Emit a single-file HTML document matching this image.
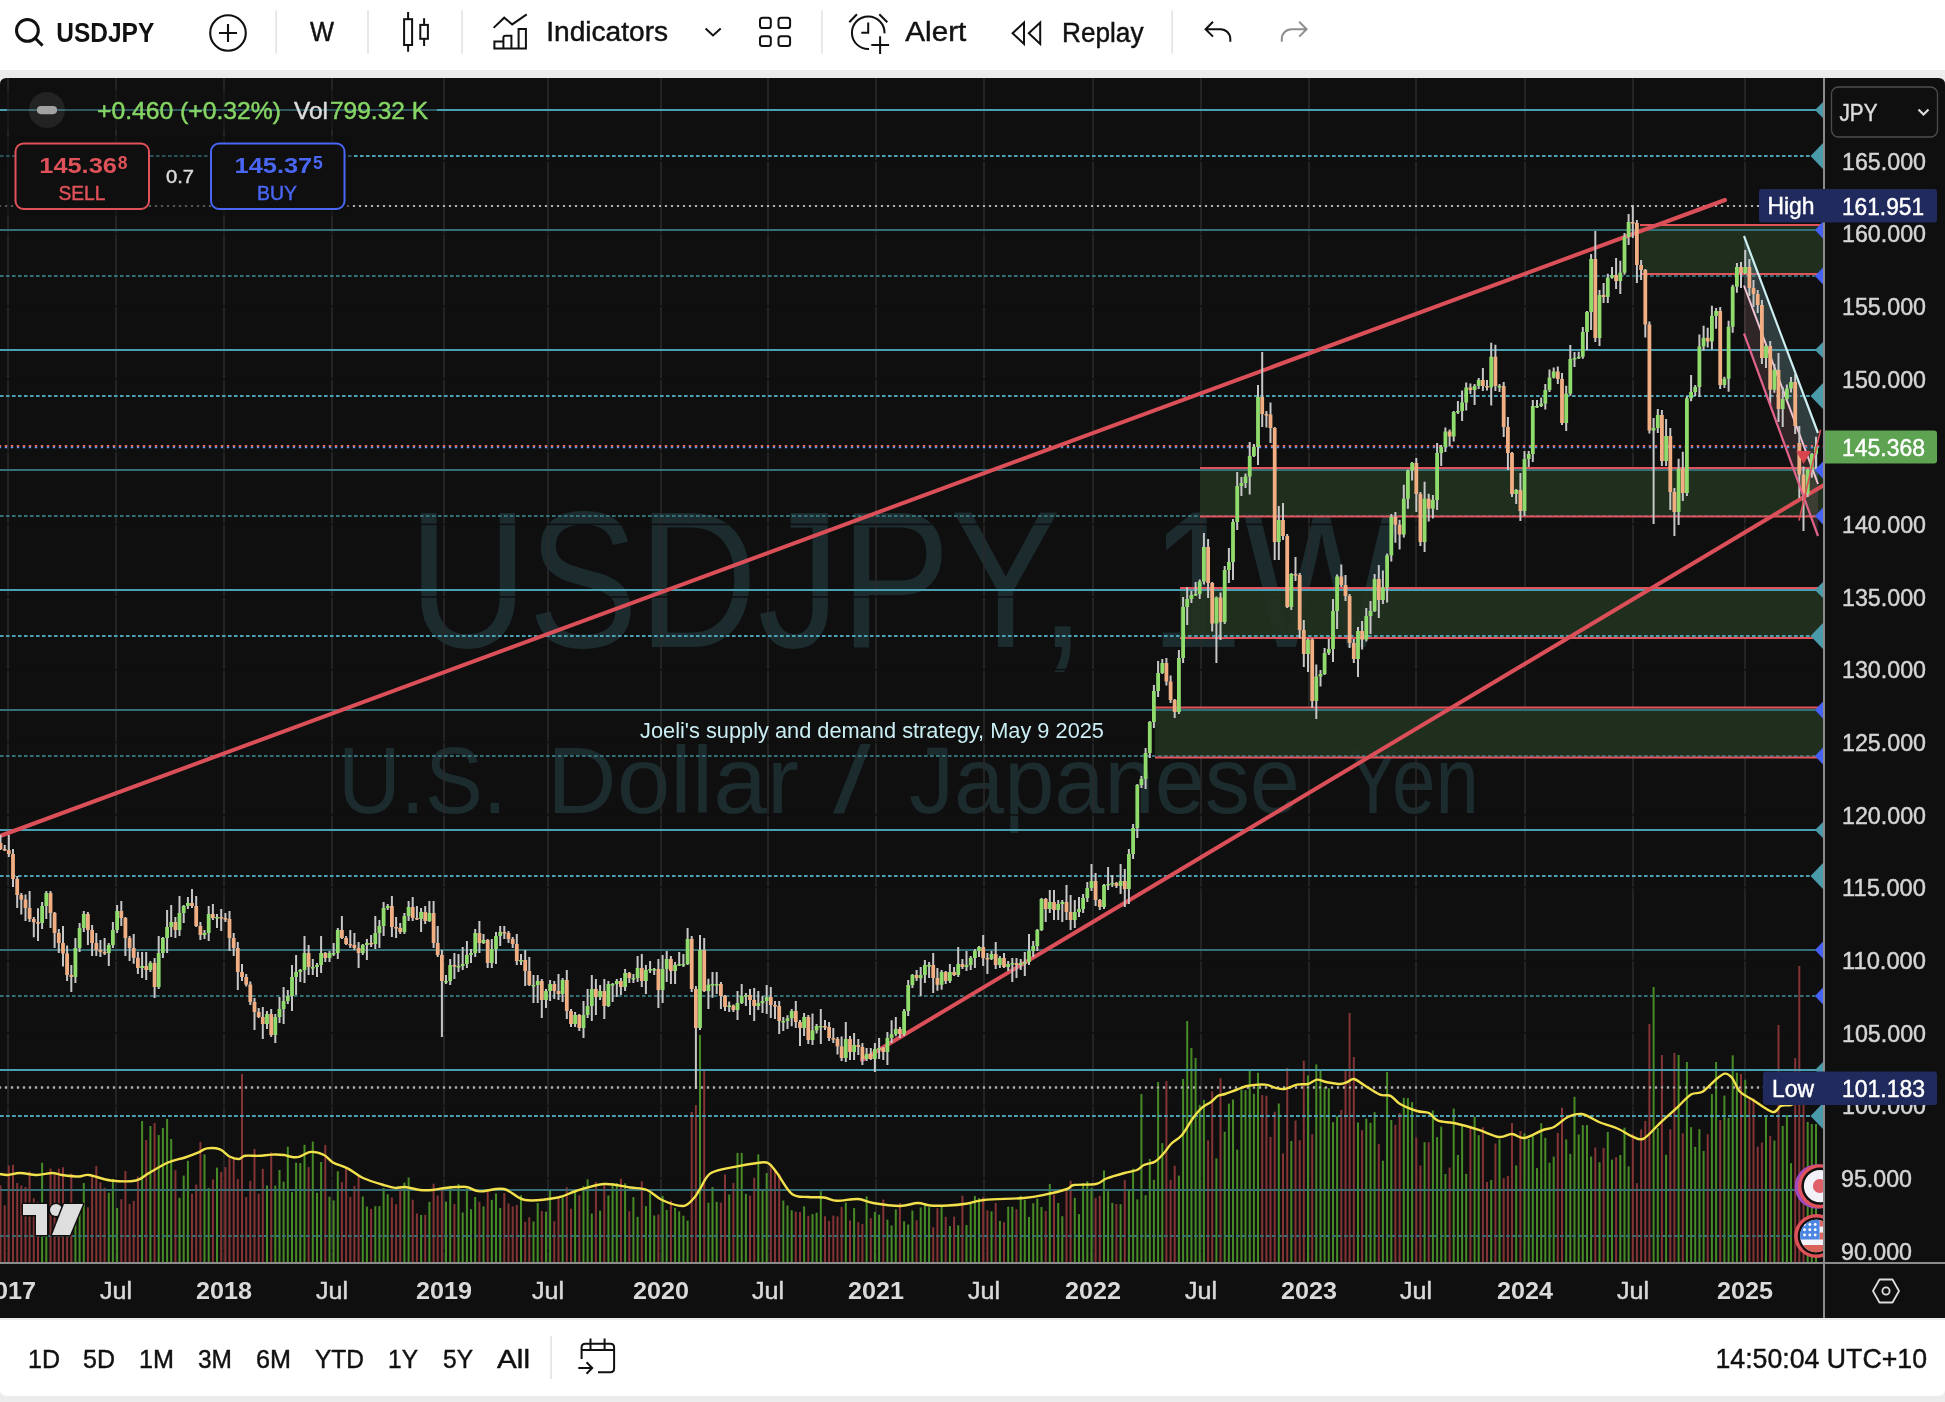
<!DOCTYPE html>
<html><head><meta charset="utf-8"><title>USDJPY</title>
<style>html,body{margin:0;padding:0;background:#ececec;width:1945px;height:1402px;overflow:hidden;font-family:"Liberation Sans",sans-serif}</style></head>
<body>
<svg width="1945" height="1402" viewBox="0 0 1945 1402" style="position:absolute;left:0;top:0;will-change:transform;font-family:'Liberation Sans',sans-serif">
<defs><clipPath id="cp"><rect x="0" y="78" width="1823" height="1185"/></clipPath><clipPath id="chartall"><path d="M0 84.500 Q0 78 6.5 78 H1938.5 Q1945 78 1945 84.500 V1318 H0 Z"/></clipPath></defs>
<rect width="1945" height="1402" fill="#ececec"/>
<rect width="1945" height="70" fill="#fff"/>
<path d="M0 1320 H1945 V1389 Q1945 1396 1938 1396 H7 Q0 1396 0 1389 Z" fill="#fff"/>
<g clip-path="url(#chartall)"><rect x="0" y="78" width="1945" height="1240" fill="#0f0f0f"/></g>
<g clip-path="url(#cp)">
<text x="408.500" y="646.5" font-size="195" fill="#1c2b2e" textLength="677" lengthAdjust="spacingAndGlyphs">USDJPY,</text>
<text x="1150" y="646.5" font-size="195" fill="#1c2b2e" textLength="250" lengthAdjust="spacingAndGlyphs">1W</text>
<text x="338" y="813" font-size="95" fill="#1c2b2e" textLength="169" lengthAdjust="spacingAndGlyphs">U.S.</text>
<text x="547" y="813" font-size="95" fill="#1c2b2e" textLength="252" lengthAdjust="spacingAndGlyphs">Dollar</text>
<text x="833" y="813" font-size="95" fill="#1c2b2e" textLength="38" lengthAdjust="spacingAndGlyphs">/</text>
<text x="909" y="813" font-size="95" fill="#1c2b2e" textLength="391" lengthAdjust="spacingAndGlyphs">Japanese</text>
<text x="1347" y="813" font-size="95" fill="#1c2b2e" textLength="132" lengthAdjust="spacingAndGlyphs">Yen</text>
<rect x="7.25" y="78" width="1.5" height="1184" fill="#2b2b2b"/>
<rect x="115.25" y="78" width="1.5" height="1184" fill="#2b2b2b"/>
<rect x="223.25" y="78" width="1.5" height="1184" fill="#2b2b2b"/>
<rect x="331.25" y="78" width="1.5" height="1184" fill="#2b2b2b"/>
<rect x="443.25" y="78" width="1.5" height="1184" fill="#2b2b2b"/>
<rect x="547.25" y="78" width="1.5" height="1184" fill="#2b2b2b"/>
<rect x="660.25" y="78" width="1.5" height="1184" fill="#2b2b2b"/>
<rect x="767.25" y="78" width="1.5" height="1184" fill="#2b2b2b"/>
<rect x="875.25" y="78" width="1.5" height="1184" fill="#2b2b2b"/>
<rect x="983.25" y="78" width="1.5" height="1184" fill="#2b2b2b"/>
<rect x="1092.25" y="78" width="1.5" height="1184" fill="#2b2b2b"/>
<rect x="1200.25" y="78" width="1.5" height="1184" fill="#2b2b2b"/>
<rect x="1308.25" y="78" width="1.5" height="1184" fill="#2b2b2b"/>
<rect x="1415.25" y="78" width="1.5" height="1184" fill="#2b2b2b"/>
<rect x="1524.25" y="78" width="1.5" height="1184" fill="#2b2b2b"/>
<rect x="1632.25" y="78" width="1.5" height="1184" fill="#2b2b2b"/>
<rect x="1744.25" y="78" width="1.5" height="1184" fill="#2b2b2b"/>
<rect x="0" y="1250.2" width="1823" height="1.5" fill="#0f0f0f"/>
<rect x="0" y="1177.6" width="1823" height="1.5" fill="#0f0f0f"/>
<rect x="0" y="1104.9" width="1823" height="1.5" fill="#0f0f0f"/>
<rect x="0" y="1032.2" width="1823" height="1.5" fill="#0f0f0f"/>
<rect x="0" y="959.6" width="1823" height="1.5" fill="#0f0f0f"/>
<rect x="0" y="886.9" width="1823" height="1.5" fill="#0f0f0f"/>
<rect x="0" y="814.2" width="1823" height="1.5" fill="#0f0f0f"/>
<rect x="0" y="741.6" width="1823" height="1.5" fill="#0f0f0f"/>
<rect x="0" y="668.9" width="1823" height="1.5" fill="#0f0f0f"/>
<rect x="0" y="596.2" width="1823" height="1.5" fill="#0f0f0f"/>
<rect x="0" y="523.6" width="1823" height="1.5" fill="#0f0f0f"/>
<rect x="0" y="450.9" width="1823" height="1.5" fill="#0f0f0f"/>
<rect x="0" y="378.2" width="1823" height="1.5" fill="#0f0f0f"/>
<rect x="0" y="305.6" width="1823" height="1.5" fill="#0f0f0f"/>
<rect x="0" y="232.9" width="1823" height="1.5" fill="#0f0f0f"/>
<rect x="0" y="160.2" width="1823" height="1.5" fill="#0f0f0f"/>
<rect x="1640" y="225" width="183" height="49" fill="#22311f" fill-opacity="0.92"/>
<rect x="1200" y="468" width="623" height="48.5" fill="#22311f" fill-opacity="0.92"/>
<rect x="1180" y="588" width="643" height="50" fill="#22311f" fill-opacity="0.92"/>
<rect x="1155" y="707.5" width="668" height="50.0" fill="#22311f" fill-opacity="0.92"/>
<rect x="0" y="109" width="1823" height="2" fill="#4a9fb3"/>
<rect x="0" y="229" width="1823" height="2" fill="#357079"/>
<rect x="0" y="349" width="1823" height="2" fill="#4a9fb3"/>
<rect x="0" y="469" width="1823" height="2" fill="#357079"/>
<rect x="0" y="589" width="1823" height="2" fill="#4a9fb3"/>
<rect x="0" y="709" width="1823" height="2" fill="#357079"/>
<rect x="0" y="829" width="1823" height="2" fill="#4a9fb3"/>
<rect x="0" y="949" width="1823" height="2" fill="#357079"/>
<rect x="0" y="1069" width="1823" height="2" fill="#4a9fb3"/>
<rect x="0" y="1189" width="1823" height="2" fill="#357079"/>
<line x1="0" y1="156" x2="1823" y2="156" stroke="#4a9fb3" stroke-width="2" stroke-dasharray="3.6 2.4"/>
<line x1="0" y1="276" x2="1823" y2="276" stroke="#357079" stroke-width="2" stroke-dasharray="3.6 2.4"/>
<line x1="0" y1="396" x2="1823" y2="396" stroke="#4a9fb3" stroke-width="2" stroke-dasharray="3.6 2.4"/>
<line x1="0" y1="516" x2="1823" y2="516" stroke="#357079" stroke-width="2" stroke-dasharray="3.6 2.4"/>
<line x1="0" y1="636" x2="1823" y2="636" stroke="#4a9fb3" stroke-width="2" stroke-dasharray="3.6 2.4"/>
<line x1="0" y1="756" x2="1823" y2="756" stroke="#357079" stroke-width="2" stroke-dasharray="3.6 2.4"/>
<line x1="0" y1="876" x2="1823" y2="876" stroke="#4a9fb3" stroke-width="2" stroke-dasharray="3.6 2.4"/>
<line x1="0" y1="996" x2="1823" y2="996" stroke="#357079" stroke-width="2" stroke-dasharray="3.6 2.4"/>
<line x1="0" y1="1116" x2="1823" y2="1116" stroke="#4a9fb3" stroke-width="2" stroke-dasharray="3.6 2.4"/>
<line x1="0" y1="1236" x2="1823" y2="1236" stroke="#357079" stroke-width="2" stroke-dasharray="3.6 2.4"/>
<rect x="1640" y="224" width="183" height="2" fill="#e2525a"/>
<rect x="1640" y="273" width="183" height="2" fill="#e2525a"/>
<rect x="1200" y="467" width="623" height="2" fill="#e2525a"/>
<rect x="1200" y="515.5" width="623" height="2" fill="#e2525a"/>
<rect x="1180" y="587" width="643" height="2" fill="#e2525a"/>
<rect x="1180" y="637" width="643" height="2" fill="#e2525a"/>
<rect x="1155" y="706.5" width="668" height="2" fill="#e2525a"/>
<rect x="1155" y="756.5" width="668" height="2" fill="#e2525a"/>
<line x1="-1.1" y1="206" x2="1765" y2="206" stroke="#adadad" stroke-width="2.2" stroke-dasharray="2.2 3.8"/>
<line x1="-1.1" y1="1087.5" x2="1770" y2="1087.5" stroke="#adadad" stroke-width="2.2" stroke-dasharray="2.2 3.8"/>
<rect x="-0.5" y="1185.3" width="2" height="76.7" fill="#843434"/>
<rect x="3.7" y="1205.3" width="2" height="56.7" fill="#843434"/>
<rect x="7.8" y="1165.4" width="2" height="96.6" fill="#843434"/>
<rect x="12.0" y="1164.7" width="2" height="97.3" fill="#843434"/>
<rect x="16.2" y="1183.0" width="2" height="79.0" fill="#843434"/>
<rect x="20.3" y="1185.5" width="2" height="76.5" fill="#843434"/>
<rect x="24.5" y="1186.9" width="2" height="75.1" fill="#843434"/>
<rect x="28.6" y="1171.5" width="2" height="90.5" fill="#843434"/>
<rect x="32.8" y="1198.3" width="2" height="63.7" fill="#843434"/>
<rect x="37.0" y="1201.8" width="2" height="60.2" fill="#843434"/>
<rect x="41.1" y="1162.8" width="2" height="99.2" fill="#468b26"/>
<rect x="45.3" y="1203.1" width="2" height="58.9" fill="#468b26"/>
<rect x="49.5" y="1168.5" width="2" height="93.5" fill="#843434"/>
<rect x="53.6" y="1174.8" width="2" height="87.2" fill="#843434"/>
<rect x="57.8" y="1168.7" width="2" height="93.3" fill="#843434"/>
<rect x="62.0" y="1167.3" width="2" height="94.7" fill="#843434"/>
<rect x="66.1" y="1205.3" width="2" height="56.7" fill="#843434"/>
<rect x="70.3" y="1173.5" width="2" height="88.5" fill="#843434"/>
<rect x="74.4" y="1209.6" width="2" height="52.4" fill="#468b26"/>
<rect x="78.6" y="1204.1" width="2" height="57.9" fill="#468b26"/>
<rect x="82.8" y="1183.1" width="2" height="78.9" fill="#468b26"/>
<rect x="86.9" y="1207.3" width="2" height="54.7" fill="#843434"/>
<rect x="91.1" y="1176.3" width="2" height="85.7" fill="#843434"/>
<rect x="95.3" y="1166.1" width="2" height="95.9" fill="#843434"/>
<rect x="99.4" y="1182.4" width="2" height="79.6" fill="#843434"/>
<rect x="103.6" y="1187.8" width="2" height="74.2" fill="#843434"/>
<rect x="107.8" y="1192.7" width="2" height="69.3" fill="#468b26"/>
<rect x="111.9" y="1178.9" width="2" height="83.1" fill="#468b26"/>
<rect x="116.1" y="1208.0" width="2" height="54.0" fill="#468b26"/>
<rect x="120.3" y="1199.2" width="2" height="62.8" fill="#843434"/>
<rect x="124.4" y="1171.0" width="2" height="91.0" fill="#843434"/>
<rect x="128.6" y="1203.9" width="2" height="58.1" fill="#843434"/>
<rect x="132.7" y="1200.9" width="2" height="61.1" fill="#843434"/>
<rect x="136.9" y="1176.6" width="2" height="85.4" fill="#843434"/>
<rect x="141.1" y="1121.0" width="2" height="141.0" fill="#468b26"/>
<rect x="145.2" y="1140.0" width="2" height="122.0" fill="#843434"/>
<rect x="149.4" y="1126.0" width="2" height="136.0" fill="#468b26"/>
<rect x="153.6" y="1123.0" width="2" height="139.0" fill="#843434"/>
<rect x="157.7" y="1135.0" width="2" height="127.0" fill="#468b26"/>
<rect x="161.9" y="1128.0" width="2" height="134.0" fill="#468b26"/>
<rect x="166.1" y="1119.0" width="2" height="143.0" fill="#468b26"/>
<rect x="170.2" y="1139.0" width="2" height="123.0" fill="#468b26"/>
<rect x="174.4" y="1170.2" width="2" height="91.8" fill="#843434"/>
<rect x="178.5" y="1197.8" width="2" height="64.2" fill="#468b26"/>
<rect x="182.7" y="1175.6" width="2" height="86.4" fill="#468b26"/>
<rect x="186.9" y="1160.8" width="2" height="101.2" fill="#468b26"/>
<rect x="191.0" y="1193.7" width="2" height="68.3" fill="#843434"/>
<rect x="195.2" y="1184.6" width="2" height="77.4" fill="#843434"/>
<rect x="199.4" y="1142.1" width="2" height="119.9" fill="#843434"/>
<rect x="203.5" y="1154.4" width="2" height="107.6" fill="#468b26"/>
<rect x="207.7" y="1188.1" width="2" height="73.9" fill="#468b26"/>
<rect x="211.9" y="1179.4" width="2" height="82.6" fill="#843434"/>
<rect x="216.0" y="1167.6" width="2" height="94.4" fill="#468b26"/>
<rect x="220.2" y="1171.8" width="2" height="90.2" fill="#843434"/>
<rect x="224.4" y="1167.1" width="2" height="94.9" fill="#843434"/>
<rect x="228.5" y="1158.2" width="2" height="103.8" fill="#843434"/>
<rect x="232.7" y="1158.2" width="2" height="103.8" fill="#843434"/>
<rect x="236.8" y="1179.0" width="2" height="83.0" fill="#843434"/>
<rect x="241.0" y="1074.0" width="2" height="188.0" fill="#843434"/>
<rect x="245.2" y="1197.1" width="2" height="64.9" fill="#843434"/>
<rect x="249.3" y="1180.7" width="2" height="81.3" fill="#843434"/>
<rect x="253.5" y="1149.0" width="2" height="113.0" fill="#843434"/>
<rect x="257.7" y="1193.6" width="2" height="68.4" fill="#843434"/>
<rect x="261.8" y="1168.8" width="2" height="93.2" fill="#843434"/>
<rect x="266.0" y="1185.5" width="2" height="76.5" fill="#468b26"/>
<rect x="270.2" y="1152.4" width="2" height="109.6" fill="#843434"/>
<rect x="274.3" y="1185.6" width="2" height="76.4" fill="#468b26"/>
<rect x="278.5" y="1170.0" width="2" height="92.0" fill="#468b26"/>
<rect x="282.6" y="1181.7" width="2" height="80.3" fill="#468b26"/>
<rect x="286.8" y="1146.7" width="2" height="115.3" fill="#468b26"/>
<rect x="291.0" y="1191.9" width="2" height="70.1" fill="#468b26"/>
<rect x="295.1" y="1162.7" width="2" height="99.3" fill="#468b26"/>
<rect x="299.3" y="1163.0" width="2" height="99.0" fill="#468b26"/>
<rect x="303.5" y="1144.8" width="2" height="117.2" fill="#468b26"/>
<rect x="307.6" y="1167.1" width="2" height="94.9" fill="#843434"/>
<rect x="311.8" y="1141.5" width="2" height="120.5" fill="#468b26"/>
<rect x="316.0" y="1192.7" width="2" height="69.3" fill="#468b26"/>
<rect x="320.1" y="1162.0" width="2" height="100.0" fill="#468b26"/>
<rect x="324.3" y="1144.9" width="2" height="117.1" fill="#843434"/>
<rect x="328.5" y="1196.7" width="2" height="65.3" fill="#468b26"/>
<rect x="332.6" y="1200.4" width="2" height="61.6" fill="#468b26"/>
<rect x="336.8" y="1171.3" width="2" height="90.7" fill="#468b26"/>
<rect x="340.9" y="1182.2" width="2" height="79.8" fill="#843434"/>
<rect x="345.1" y="1168.7" width="2" height="93.3" fill="#843434"/>
<rect x="349.3" y="1196.9" width="2" height="65.1" fill="#843434"/>
<rect x="353.4" y="1186.0" width="2" height="76.0" fill="#843434"/>
<rect x="357.6" y="1176.0" width="2" height="86.0" fill="#843434"/>
<rect x="361.8" y="1196.5" width="2" height="65.5" fill="#468b26"/>
<rect x="365.9" y="1206.6" width="2" height="55.4" fill="#468b26"/>
<rect x="370.1" y="1209.0" width="2" height="53.0" fill="#843434"/>
<rect x="374.3" y="1206.2" width="2" height="55.8" fill="#468b26"/>
<rect x="378.4" y="1206.1" width="2" height="55.9" fill="#468b26"/>
<rect x="382.6" y="1188.0" width="2" height="74.0" fill="#468b26"/>
<rect x="386.7" y="1194.3" width="2" height="67.7" fill="#468b26"/>
<rect x="390.9" y="1197.5" width="2" height="64.5" fill="#843434"/>
<rect x="395.1" y="1204.3" width="2" height="57.7" fill="#843434"/>
<rect x="399.2" y="1187.5" width="2" height="74.5" fill="#843434"/>
<rect x="403.4" y="1182.6" width="2" height="79.4" fill="#468b26"/>
<rect x="407.6" y="1177.5" width="2" height="84.5" fill="#468b26"/>
<rect x="411.7" y="1199.7" width="2" height="62.3" fill="#843434"/>
<rect x="415.9" y="1213.4" width="2" height="48.6" fill="#843434"/>
<rect x="420.1" y="1215.0" width="2" height="47.0" fill="#468b26"/>
<rect x="424.2" y="1214.9" width="2" height="47.1" fill="#843434"/>
<rect x="428.4" y="1201.8" width="2" height="60.2" fill="#468b26"/>
<rect x="432.6" y="1183.7" width="2" height="78.3" fill="#843434"/>
<rect x="436.7" y="1195.6" width="2" height="66.4" fill="#843434"/>
<rect x="440.9" y="1187.2" width="2" height="74.8" fill="#843434"/>
<rect x="445.0" y="1201.6" width="2" height="60.4" fill="#468b26"/>
<rect x="449.2" y="1185.9" width="2" height="76.1" fill="#468b26"/>
<rect x="453.4" y="1204.0" width="2" height="58.0" fill="#843434"/>
<rect x="457.5" y="1183.9" width="2" height="78.1" fill="#468b26"/>
<rect x="461.7" y="1212.5" width="2" height="49.5" fill="#468b26"/>
<rect x="465.9" y="1188.2" width="2" height="73.8" fill="#468b26"/>
<rect x="470.0" y="1209.3" width="2" height="52.7" fill="#468b26"/>
<rect x="474.2" y="1197.0" width="2" height="65.0" fill="#468b26"/>
<rect x="478.4" y="1201.8" width="2" height="60.2" fill="#843434"/>
<rect x="482.5" y="1206.4" width="2" height="55.6" fill="#468b26"/>
<rect x="486.7" y="1190.2" width="2" height="71.8" fill="#843434"/>
<rect x="490.8" y="1199.9" width="2" height="62.1" fill="#468b26"/>
<rect x="495.0" y="1193.5" width="2" height="68.5" fill="#468b26"/>
<rect x="499.2" y="1208.0" width="2" height="54.0" fill="#468b26"/>
<rect x="503.3" y="1193.1" width="2" height="68.9" fill="#843434"/>
<rect x="507.5" y="1203.5" width="2" height="58.5" fill="#843434"/>
<rect x="511.7" y="1206.4" width="2" height="55.6" fill="#843434"/>
<rect x="515.8" y="1205.0" width="2" height="57.0" fill="#843434"/>
<rect x="520.0" y="1195.3" width="2" height="66.7" fill="#468b26"/>
<rect x="524.2" y="1221.9" width="2" height="40.1" fill="#843434"/>
<rect x="528.3" y="1217.3" width="2" height="44.7" fill="#843434"/>
<rect x="532.5" y="1221.5" width="2" height="40.5" fill="#468b26"/>
<rect x="536.7" y="1203.1" width="2" height="58.9" fill="#468b26"/>
<rect x="540.8" y="1211.0" width="2" height="51.0" fill="#843434"/>
<rect x="545.0" y="1211.7" width="2" height="50.3" fill="#468b26"/>
<rect x="549.1" y="1190.4" width="2" height="71.6" fill="#468b26"/>
<rect x="553.3" y="1221.2" width="2" height="40.8" fill="#843434"/>
<rect x="557.5" y="1196.7" width="2" height="65.3" fill="#843434"/>
<rect x="561.6" y="1197.2" width="2" height="64.8" fill="#468b26"/>
<rect x="565.8" y="1187.2" width="2" height="74.8" fill="#843434"/>
<rect x="570.0" y="1208.7" width="2" height="53.3" fill="#843434"/>
<rect x="574.1" y="1191.5" width="2" height="70.5" fill="#468b26"/>
<rect x="578.3" y="1195.2" width="2" height="66.8" fill="#843434"/>
<rect x="582.5" y="1186.1" width="2" height="75.9" fill="#468b26"/>
<rect x="586.6" y="1179.4" width="2" height="82.6" fill="#468b26"/>
<rect x="590.8" y="1213.6" width="2" height="48.4" fill="#468b26"/>
<rect x="594.9" y="1182.0" width="2" height="80.0" fill="#843434"/>
<rect x="599.1" y="1210.6" width="2" height="51.4" fill="#468b26"/>
<rect x="603.3" y="1184.5" width="2" height="77.5" fill="#843434"/>
<rect x="607.4" y="1195.4" width="2" height="66.6" fill="#468b26"/>
<rect x="611.6" y="1183.1" width="2" height="78.9" fill="#468b26"/>
<rect x="615.8" y="1183.2" width="2" height="78.8" fill="#468b26"/>
<rect x="619.9" y="1178.7" width="2" height="83.3" fill="#843434"/>
<rect x="624.1" y="1183.3" width="2" height="78.7" fill="#468b26"/>
<rect x="628.3" y="1211.1" width="2" height="50.9" fill="#843434"/>
<rect x="632.4" y="1197.1" width="2" height="64.9" fill="#468b26"/>
<rect x="636.6" y="1216.8" width="2" height="45.2" fill="#468b26"/>
<rect x="640.8" y="1181.3" width="2" height="80.7" fill="#843434"/>
<rect x="644.9" y="1206.2" width="2" height="55.8" fill="#468b26"/>
<rect x="649.1" y="1193.4" width="2" height="68.6" fill="#468b26"/>
<rect x="653.2" y="1215.5" width="2" height="46.5" fill="#468b26"/>
<rect x="657.4" y="1214.5" width="2" height="47.5" fill="#843434"/>
<rect x="661.6" y="1195.8" width="2" height="66.2" fill="#468b26"/>
<rect x="665.7" y="1209.9" width="2" height="52.1" fill="#468b26"/>
<rect x="669.9" y="1200.8" width="2" height="61.2" fill="#843434"/>
<rect x="674.1" y="1207.8" width="2" height="54.2" fill="#468b26"/>
<rect x="678.2" y="1211.4" width="2" height="50.6" fill="#468b26"/>
<rect x="682.4" y="1215.7" width="2" height="46.3" fill="#468b26"/>
<rect x="686.6" y="1220.6" width="2" height="41.4" fill="#468b26"/>
<rect x="690.7" y="1112.0" width="2" height="150.0" fill="#843434"/>
<rect x="694.9" y="1105.0" width="2" height="157.0" fill="#843434"/>
<rect x="699.0" y="1035.0" width="2" height="227.0" fill="#468b26"/>
<rect x="703.2" y="1071.0" width="2" height="191.0" fill="#843434"/>
<rect x="707.4" y="1202.7" width="2" height="59.3" fill="#468b26"/>
<rect x="711.5" y="1187.1" width="2" height="74.9" fill="#468b26"/>
<rect x="715.7" y="1201.8" width="2" height="60.2" fill="#468b26"/>
<rect x="719.9" y="1202.7" width="2" height="59.3" fill="#843434"/>
<rect x="724.0" y="1174.5" width="2" height="87.5" fill="#843434"/>
<rect x="728.2" y="1194.5" width="2" height="67.5" fill="#468b26"/>
<rect x="732.4" y="1182.9" width="2" height="79.1" fill="#843434"/>
<rect x="736.5" y="1152.9" width="2" height="109.1" fill="#468b26"/>
<rect x="740.7" y="1152.9" width="2" height="109.1" fill="#468b26"/>
<rect x="744.9" y="1193.9" width="2" height="68.1" fill="#468b26"/>
<rect x="749.0" y="1195.6" width="2" height="66.4" fill="#843434"/>
<rect x="753.2" y="1177.7" width="2" height="84.3" fill="#843434"/>
<rect x="757.3" y="1154.3" width="2" height="107.7" fill="#468b26"/>
<rect x="761.5" y="1189.3" width="2" height="72.7" fill="#468b26"/>
<rect x="765.7" y="1173.1" width="2" height="88.9" fill="#468b26"/>
<rect x="769.8" y="1163.7" width="2" height="98.3" fill="#843434"/>
<rect x="774.0" y="1169.2" width="2" height="92.8" fill="#843434"/>
<rect x="778.2" y="1173.6" width="2" height="88.4" fill="#843434"/>
<rect x="782.3" y="1200.5" width="2" height="61.5" fill="#468b26"/>
<rect x="786.5" y="1205.5" width="2" height="56.5" fill="#468b26"/>
<rect x="790.7" y="1210.3" width="2" height="51.7" fill="#468b26"/>
<rect x="794.8" y="1211.7" width="2" height="50.3" fill="#843434"/>
<rect x="799.0" y="1212.1" width="2" height="49.9" fill="#843434"/>
<rect x="803.1" y="1206.4" width="2" height="55.6" fill="#468b26"/>
<rect x="807.3" y="1215.8" width="2" height="46.2" fill="#843434"/>
<rect x="811.5" y="1214.1" width="2" height="47.9" fill="#468b26"/>
<rect x="815.6" y="1212.7" width="2" height="49.3" fill="#468b26"/>
<rect x="819.8" y="1191.2" width="2" height="70.8" fill="#468b26"/>
<rect x="824.0" y="1216.2" width="2" height="45.8" fill="#843434"/>
<rect x="828.1" y="1221.1" width="2" height="40.9" fill="#843434"/>
<rect x="832.3" y="1215.6" width="2" height="46.4" fill="#843434"/>
<rect x="836.5" y="1216.4" width="2" height="45.6" fill="#843434"/>
<rect x="840.6" y="1207.0" width="2" height="55.0" fill="#843434"/>
<rect x="844.8" y="1202.6" width="2" height="59.4" fill="#468b26"/>
<rect x="849.0" y="1220.5" width="2" height="41.5" fill="#843434"/>
<rect x="853.1" y="1208.1" width="2" height="53.9" fill="#468b26"/>
<rect x="857.3" y="1222.2" width="2" height="39.8" fill="#843434"/>
<rect x="861.4" y="1224.0" width="2" height="38.0" fill="#843434"/>
<rect x="865.6" y="1196.3" width="2" height="65.7" fill="#468b26"/>
<rect x="869.8" y="1218.1" width="2" height="43.9" fill="#843434"/>
<rect x="873.9" y="1211.9" width="2" height="50.1" fill="#468b26"/>
<rect x="878.1" y="1214.6" width="2" height="47.4" fill="#468b26"/>
<rect x="882.3" y="1199.5" width="2" height="62.5" fill="#843434"/>
<rect x="886.4" y="1219.7" width="2" height="42.3" fill="#468b26"/>
<rect x="890.6" y="1225.5" width="2" height="36.5" fill="#468b26"/>
<rect x="894.8" y="1209.3" width="2" height="52.7" fill="#468b26"/>
<rect x="898.9" y="1203.0" width="2" height="59.0" fill="#843434"/>
<rect x="903.1" y="1221.3" width="2" height="40.7" fill="#468b26"/>
<rect x="907.2" y="1224.5" width="2" height="37.5" fill="#468b26"/>
<rect x="911.4" y="1210.5" width="2" height="51.5" fill="#468b26"/>
<rect x="915.6" y="1220.3" width="2" height="41.7" fill="#843434"/>
<rect x="919.7" y="1207.5" width="2" height="54.5" fill="#468b26"/>
<rect x="923.9" y="1203.0" width="2" height="59.0" fill="#468b26"/>
<rect x="928.1" y="1207.2" width="2" height="54.8" fill="#468b26"/>
<rect x="932.2" y="1227.1" width="2" height="34.9" fill="#843434"/>
<rect x="936.4" y="1208.2" width="2" height="53.8" fill="#843434"/>
<rect x="940.6" y="1206.0" width="2" height="56.0" fill="#468b26"/>
<rect x="944.7" y="1216.8" width="2" height="45.2" fill="#843434"/>
<rect x="948.9" y="1226.1" width="2" height="35.9" fill="#468b26"/>
<rect x="953.1" y="1216.6" width="2" height="45.4" fill="#843434"/>
<rect x="957.2" y="1225.3" width="2" height="36.7" fill="#468b26"/>
<rect x="961.4" y="1195.7" width="2" height="66.3" fill="#843434"/>
<rect x="965.5" y="1225.0" width="2" height="37.0" fill="#468b26"/>
<rect x="969.7" y="1202.6" width="2" height="59.4" fill="#468b26"/>
<rect x="973.9" y="1195.9" width="2" height="66.1" fill="#468b26"/>
<rect x="978.0" y="1198.2" width="2" height="63.8" fill="#468b26"/>
<rect x="982.2" y="1197.2" width="2" height="64.8" fill="#843434"/>
<rect x="986.4" y="1210.4" width="2" height="51.6" fill="#843434"/>
<rect x="990.5" y="1211.4" width="2" height="50.6" fill="#468b26"/>
<rect x="994.7" y="1203.0" width="2" height="59.0" fill="#843434"/>
<rect x="998.9" y="1220.9" width="2" height="41.1" fill="#468b26"/>
<rect x="1003.0" y="1222.3" width="2" height="39.7" fill="#843434"/>
<rect x="1007.2" y="1206.6" width="2" height="55.4" fill="#468b26"/>
<rect x="1011.3" y="1206.8" width="2" height="55.2" fill="#468b26"/>
<rect x="1015.5" y="1209.2" width="2" height="52.8" fill="#843434"/>
<rect x="1019.7" y="1195.8" width="2" height="66.2" fill="#468b26"/>
<rect x="1023.8" y="1200.0" width="2" height="62.0" fill="#468b26"/>
<rect x="1028.0" y="1217.0" width="2" height="45.0" fill="#468b26"/>
<rect x="1032.2" y="1203.3" width="2" height="58.7" fill="#468b26"/>
<rect x="1036.3" y="1198.5" width="2" height="63.5" fill="#468b26"/>
<rect x="1040.5" y="1207.0" width="2" height="55.0" fill="#468b26"/>
<rect x="1044.7" y="1211.0" width="2" height="51.0" fill="#843434"/>
<rect x="1048.8" y="1183.9" width="2" height="78.1" fill="#468b26"/>
<rect x="1053.0" y="1194.6" width="2" height="67.4" fill="#843434"/>
<rect x="1057.2" y="1203.0" width="2" height="59.0" fill="#468b26"/>
<rect x="1061.3" y="1216.2" width="2" height="45.8" fill="#468b26"/>
<rect x="1065.5" y="1188.4" width="2" height="73.6" fill="#843434"/>
<rect x="1069.6" y="1180.6" width="2" height="81.4" fill="#843434"/>
<rect x="1073.8" y="1197.9" width="2" height="64.1" fill="#468b26"/>
<rect x="1078.0" y="1214.1" width="2" height="47.9" fill="#468b26"/>
<rect x="1082.1" y="1183.0" width="2" height="79.0" fill="#468b26"/>
<rect x="1086.3" y="1181.3" width="2" height="80.7" fill="#468b26"/>
<rect x="1090.5" y="1187.7" width="2" height="74.3" fill="#468b26"/>
<rect x="1094.6" y="1198.1" width="2" height="63.9" fill="#843434"/>
<rect x="1098.8" y="1195.8" width="2" height="66.2" fill="#843434"/>
<rect x="1103.0" y="1170.4" width="2" height="91.6" fill="#468b26"/>
<rect x="1107.1" y="1191.2" width="2" height="70.8" fill="#468b26"/>
<rect x="1111.3" y="1202.9" width="2" height="59.1" fill="#468b26"/>
<rect x="1115.4" y="1204.0" width="2" height="58.0" fill="#843434"/>
<rect x="1119.6" y="1204.2" width="2" height="57.8" fill="#468b26"/>
<rect x="1123.8" y="1180.1" width="2" height="81.9" fill="#843434"/>
<rect x="1127.9" y="1189.5" width="2" height="72.5" fill="#468b26"/>
<rect x="1132.1" y="1168.7" width="2" height="93.3" fill="#468b26"/>
<rect x="1136.3" y="1199.4" width="2" height="62.6" fill="#468b26"/>
<rect x="1140.4" y="1094.0" width="2" height="168.0" fill="#468b26"/>
<rect x="1144.6" y="1195.2" width="2" height="66.8" fill="#468b26"/>
<rect x="1148.8" y="1159.0" width="2" height="103.0" fill="#468b26"/>
<rect x="1152.9" y="1179.8" width="2" height="82.2" fill="#468b26"/>
<rect x="1157.1" y="1082.0" width="2" height="180.0" fill="#468b26"/>
<rect x="1161.3" y="1143.1" width="2" height="118.9" fill="#468b26"/>
<rect x="1165.4" y="1081.0" width="2" height="181.0" fill="#843434"/>
<rect x="1169.6" y="1179.8" width="2" height="82.2" fill="#843434"/>
<rect x="1173.7" y="1165.8" width="2" height="96.2" fill="#843434"/>
<rect x="1177.9" y="1175.6" width="2" height="86.4" fill="#468b26"/>
<rect x="1182.1" y="1079.0" width="2" height="183.0" fill="#468b26"/>
<rect x="1186.2" y="1021.0" width="2" height="241.0" fill="#468b26"/>
<rect x="1190.4" y="1048.0" width="2" height="214.0" fill="#468b26"/>
<rect x="1194.6" y="1058.0" width="2" height="204.0" fill="#468b26"/>
<rect x="1198.7" y="1104.9" width="2" height="157.1" fill="#468b26"/>
<rect x="1202.9" y="1099.9" width="2" height="162.1" fill="#468b26"/>
<rect x="1207.1" y="1140.4" width="2" height="121.6" fill="#843434"/>
<rect x="1211.2" y="1091.3" width="2" height="170.7" fill="#843434"/>
<rect x="1215.4" y="1158.4" width="2" height="103.6" fill="#468b26"/>
<rect x="1219.5" y="1078.3" width="2" height="183.7" fill="#843434"/>
<rect x="1223.7" y="1131.7" width="2" height="130.3" fill="#468b26"/>
<rect x="1227.9" y="1103.6" width="2" height="158.4" fill="#468b26"/>
<rect x="1232.0" y="1099.5" width="2" height="162.5" fill="#468b26"/>
<rect x="1236.2" y="1149.6" width="2" height="112.4" fill="#468b26"/>
<rect x="1240.4" y="1089.5" width="2" height="172.5" fill="#468b26"/>
<rect x="1244.5" y="1090.3" width="2" height="171.7" fill="#468b26"/>
<rect x="1248.7" y="1070.1" width="2" height="191.9" fill="#468b26"/>
<rect x="1252.9" y="1093.8" width="2" height="168.2" fill="#468b26"/>
<rect x="1257.0" y="1072.7" width="2" height="189.3" fill="#468b26"/>
<rect x="1261.2" y="1095.1" width="2" height="166.9" fill="#843434"/>
<rect x="1265.4" y="1095.8" width="2" height="166.2" fill="#843434"/>
<rect x="1269.5" y="1137.0" width="2" height="125.0" fill="#843434"/>
<rect x="1273.7" y="1111.7" width="2" height="150.3" fill="#843434"/>
<rect x="1277.8" y="1103.5" width="2" height="158.5" fill="#468b26"/>
<rect x="1282.0" y="1153.4" width="2" height="108.6" fill="#843434"/>
<rect x="1286.2" y="1068.1" width="2" height="193.9" fill="#843434"/>
<rect x="1290.3" y="1141.0" width="2" height="121.0" fill="#468b26"/>
<rect x="1294.5" y="1120.5" width="2" height="141.5" fill="#843434"/>
<rect x="1298.7" y="1140.2" width="2" height="121.8" fill="#843434"/>
<rect x="1302.8" y="1060.7" width="2" height="201.3" fill="#843434"/>
<rect x="1307.0" y="1075.4" width="2" height="186.6" fill="#468b26"/>
<rect x="1311.2" y="1134.3" width="2" height="127.7" fill="#843434"/>
<rect x="1315.3" y="1064.4" width="2" height="197.6" fill="#468b26"/>
<rect x="1319.5" y="1069.2" width="2" height="192.8" fill="#468b26"/>
<rect x="1323.6" y="1087.0" width="2" height="175.0" fill="#468b26"/>
<rect x="1327.8" y="1088.2" width="2" height="173.8" fill="#468b26"/>
<rect x="1332.0" y="1122.2" width="2" height="139.8" fill="#468b26"/>
<rect x="1336.1" y="1116.3" width="2" height="145.7" fill="#468b26"/>
<rect x="1340.3" y="1110.0" width="2" height="152.0" fill="#843434"/>
<rect x="1344.5" y="1070.7" width="2" height="191.3" fill="#843434"/>
<rect x="1348.6" y="1013.0" width="2" height="249.0" fill="#843434"/>
<rect x="1352.8" y="1057.0" width="2" height="205.0" fill="#843434"/>
<rect x="1357.0" y="1122.5" width="2" height="139.5" fill="#468b26"/>
<rect x="1361.1" y="1130.2" width="2" height="131.8" fill="#843434"/>
<rect x="1365.3" y="1118.7" width="2" height="143.3" fill="#468b26"/>
<rect x="1369.5" y="1122.8" width="2" height="139.2" fill="#468b26"/>
<rect x="1373.6" y="1112.2" width="2" height="149.8" fill="#468b26"/>
<rect x="1377.8" y="1144.1" width="2" height="117.9" fill="#843434"/>
<rect x="1381.9" y="1160.7" width="2" height="101.3" fill="#468b26"/>
<rect x="1386.1" y="1072.0" width="2" height="190.0" fill="#468b26"/>
<rect x="1390.3" y="1120.0" width="2" height="142.0" fill="#468b26"/>
<rect x="1394.4" y="1124.7" width="2" height="137.3" fill="#843434"/>
<rect x="1398.6" y="1113.0" width="2" height="149.0" fill="#843434"/>
<rect x="1402.8" y="1097.8" width="2" height="164.2" fill="#468b26"/>
<rect x="1406.9" y="1098.1" width="2" height="163.9" fill="#468b26"/>
<rect x="1411.1" y="1102.1" width="2" height="159.9" fill="#468b26"/>
<rect x="1415.3" y="1137.5" width="2" height="124.5" fill="#843434"/>
<rect x="1419.4" y="1165.5" width="2" height="96.5" fill="#843434"/>
<rect x="1423.6" y="1142.2" width="2" height="119.8" fill="#468b26"/>
<rect x="1427.7" y="1142.2" width="2" height="119.8" fill="#843434"/>
<rect x="1431.9" y="1110.4" width="2" height="151.6" fill="#468b26"/>
<rect x="1436.1" y="1137.1" width="2" height="124.9" fill="#468b26"/>
<rect x="1440.2" y="1126.6" width="2" height="135.4" fill="#468b26"/>
<rect x="1444.4" y="1174.0" width="2" height="88.0" fill="#468b26"/>
<rect x="1448.6" y="1167.6" width="2" height="94.4" fill="#843434"/>
<rect x="1452.7" y="1108.5" width="2" height="153.5" fill="#468b26"/>
<rect x="1456.9" y="1155.0" width="2" height="107.0" fill="#468b26"/>
<rect x="1461.1" y="1125.7" width="2" height="136.3" fill="#468b26"/>
<rect x="1465.2" y="1173.9" width="2" height="88.1" fill="#468b26"/>
<rect x="1469.4" y="1125.7" width="2" height="136.3" fill="#843434"/>
<rect x="1473.6" y="1116.5" width="2" height="145.5" fill="#468b26"/>
<rect x="1477.7" y="1135.2" width="2" height="126.8" fill="#468b26"/>
<rect x="1481.9" y="1127.3" width="2" height="134.7" fill="#843434"/>
<rect x="1486.0" y="1181.9" width="2" height="80.1" fill="#843434"/>
<rect x="1490.2" y="1180.0" width="2" height="82.0" fill="#468b26"/>
<rect x="1494.4" y="1143.5" width="2" height="118.5" fill="#843434"/>
<rect x="1498.5" y="1139.2" width="2" height="122.8" fill="#468b26"/>
<rect x="1502.7" y="1178.1" width="2" height="83.9" fill="#843434"/>
<rect x="1506.9" y="1175.9" width="2" height="86.1" fill="#843434"/>
<rect x="1511.0" y="1123.0" width="2" height="139.0" fill="#843434"/>
<rect x="1515.2" y="1165.5" width="2" height="96.5" fill="#468b26"/>
<rect x="1519.4" y="1131.0" width="2" height="131.0" fill="#843434"/>
<rect x="1523.5" y="1133.4" width="2" height="128.6" fill="#468b26"/>
<rect x="1527.7" y="1139.0" width="2" height="123.0" fill="#468b26"/>
<rect x="1531.8" y="1134.8" width="2" height="127.2" fill="#468b26"/>
<rect x="1536.0" y="1168.1" width="2" height="93.9" fill="#468b26"/>
<rect x="1540.2" y="1123.3" width="2" height="138.7" fill="#468b26"/>
<rect x="1544.3" y="1137.8" width="2" height="124.2" fill="#468b26"/>
<rect x="1548.5" y="1162.7" width="2" height="99.3" fill="#468b26"/>
<rect x="1552.7" y="1156.6" width="2" height="105.4" fill="#468b26"/>
<rect x="1556.8" y="1132.8" width="2" height="129.2" fill="#843434"/>
<rect x="1561.0" y="1107.7" width="2" height="154.3" fill="#843434"/>
<rect x="1565.2" y="1139.4" width="2" height="122.6" fill="#468b26"/>
<rect x="1569.3" y="1153.8" width="2" height="108.2" fill="#468b26"/>
<rect x="1573.5" y="1096.8" width="2" height="165.2" fill="#468b26"/>
<rect x="1577.7" y="1134.5" width="2" height="127.5" fill="#468b26"/>
<rect x="1581.8" y="1125.2" width="2" height="136.8" fill="#468b26"/>
<rect x="1586.0" y="1125.1" width="2" height="136.9" fill="#468b26"/>
<rect x="1590.1" y="1156.5" width="2" height="105.5" fill="#468b26"/>
<rect x="1594.3" y="1147.5" width="2" height="114.5" fill="#843434"/>
<rect x="1598.5" y="1162.2" width="2" height="99.8" fill="#468b26"/>
<rect x="1602.6" y="1147.9" width="2" height="114.1" fill="#843434"/>
<rect x="1606.8" y="1131.9" width="2" height="130.1" fill="#468b26"/>
<rect x="1611.0" y="1159.6" width="2" height="102.4" fill="#468b26"/>
<rect x="1615.1" y="1157.1" width="2" height="104.9" fill="#843434"/>
<rect x="1619.3" y="1155.0" width="2" height="107.0" fill="#468b26"/>
<rect x="1623.5" y="1127.7" width="2" height="134.3" fill="#468b26"/>
<rect x="1627.6" y="1166.4" width="2" height="95.6" fill="#468b26"/>
<rect x="1631.8" y="1133.9" width="2" height="128.1" fill="#843434"/>
<rect x="1635.9" y="1183.2" width="2" height="78.8" fill="#843434"/>
<rect x="1640.1" y="1129.4" width="2" height="132.6" fill="#843434"/>
<rect x="1644.3" y="1121.0" width="2" height="141.0" fill="#843434"/>
<rect x="1648.4" y="1024.0" width="2" height="238.0" fill="#843434"/>
<rect x="1652.6" y="987.0" width="2" height="275.0" fill="#468b26"/>
<rect x="1656.8" y="1128.1" width="2" height="133.9" fill="#468b26"/>
<rect x="1660.9" y="1055.0" width="2" height="207.0" fill="#843434"/>
<rect x="1665.1" y="1154.8" width="2" height="107.2" fill="#468b26"/>
<rect x="1669.3" y="1129.2" width="2" height="132.8" fill="#843434"/>
<rect x="1673.4" y="1053.0" width="2" height="209.0" fill="#843434"/>
<rect x="1677.6" y="1055.0" width="2" height="207.0" fill="#468b26"/>
<rect x="1681.8" y="1133.2" width="2" height="128.8" fill="#843434"/>
<rect x="1685.9" y="1062.0" width="2" height="200.0" fill="#468b26"/>
<rect x="1690.1" y="1127.2" width="2" height="134.8" fill="#468b26"/>
<rect x="1694.2" y="1146.8" width="2" height="115.2" fill="#468b26"/>
<rect x="1698.4" y="1129.1" width="2" height="132.9" fill="#468b26"/>
<rect x="1702.6" y="1150.9" width="2" height="111.1" fill="#468b26"/>
<rect x="1706.7" y="1134.3" width="2" height="127.7" fill="#843434"/>
<rect x="1710.9" y="1094.1" width="2" height="167.9" fill="#468b26"/>
<rect x="1715.1" y="1062.0" width="2" height="200.0" fill="#468b26"/>
<rect x="1719.2" y="1120.1" width="2" height="141.9" fill="#843434"/>
<rect x="1723.4" y="1095.6" width="2" height="166.4" fill="#468b26"/>
<rect x="1727.6" y="1118.0" width="2" height="144.0" fill="#468b26"/>
<rect x="1731.7" y="1055.3" width="2" height="206.7" fill="#468b26"/>
<rect x="1735.9" y="1072.7" width="2" height="189.3" fill="#468b26"/>
<rect x="1740.0" y="1073.9" width="2" height="188.1" fill="#843434"/>
<rect x="1744.2" y="1079.8" width="2" height="182.2" fill="#468b26"/>
<rect x="1748.4" y="1097.2" width="2" height="164.8" fill="#843434"/>
<rect x="1752.5" y="1098.6" width="2" height="163.4" fill="#843434"/>
<rect x="1756.7" y="1146.6" width="2" height="115.4" fill="#843434"/>
<rect x="1760.9" y="1142.5" width="2" height="119.5" fill="#843434"/>
<rect x="1765.0" y="1116.5" width="2" height="145.5" fill="#468b26"/>
<rect x="1769.2" y="1136.0" width="2" height="126.0" fill="#843434"/>
<rect x="1773.4" y="1140.5" width="2" height="121.5" fill="#468b26"/>
<rect x="1777.5" y="1025.0" width="2" height="237.0" fill="#843434"/>
<rect x="1781.7" y="1125.9" width="2" height="136.1" fill="#468b26"/>
<rect x="1785.9" y="1115.1" width="2" height="146.9" fill="#468b26"/>
<rect x="1790.0" y="1163.1" width="2" height="98.9" fill="#468b26"/>
<rect x="1794.2" y="1058.0" width="2" height="204.0" fill="#843434"/>
<rect x="1798.3" y="966.0" width="2" height="296.0" fill="#843434"/>
<rect x="1802.5" y="1100.0" width="2" height="162.0" fill="#843434"/>
<rect x="1806.7" y="1122.0" width="2" height="140.0" fill="#468b26"/>
<rect x="1810.8" y="1124.0" width="2" height="138.0" fill="#468b26"/>
<rect x="1815.0" y="1124.0" width="2" height="138.0" fill="#468b26"/>
<rect x="0" y="1189" width="1823" height="2" fill="#357079" fill-opacity="0.75"/>
<line x1="0" y1="1236" x2="1823" y2="1236" stroke="#357079" stroke-opacity="0.8" stroke-width="2" stroke-dasharray="3.6 2.4"/>
<rect x="0" y="1069" width="1823" height="2" fill="#4a9fb3"/>
<line x1="0" y1="1116" x2="1823" y2="1116" stroke="#4a9fb3" stroke-width="2" stroke-dasharray="3.6 2.4"/>
<line x1="-1.1" y1="1087.5" x2="1770" y2="1087.5" stroke="#adadad" stroke-width="2.2" stroke-dasharray="2.2 3.8"/>
<path d="M0.0 1174.0 C1.3 1174.2 4.7 1175.2 8.0 1175.0 C11.3 1174.8 15.2 1173.0 20.0 1173.0 C24.8 1173.0 31.7 1175.0 37.0 1175.0 C42.3 1175.0 47.8 1173.0 52.0 1173.0 C56.2 1173.0 57.5 1174.4 62.0 1175.0 C66.5 1175.6 74.5 1176.5 79.0 1176.5 C83.5 1176.5 83.7 1174.3 89.0 1175.0 C94.3 1175.7 103.2 1179.6 111.0 1180.5 C118.8 1181.4 129.8 1181.7 136.0 1180.5 C142.2 1179.3 142.7 1176.6 148.0 1173.6 C153.3 1170.6 161.8 1165.2 168.0 1162.5 C174.2 1159.8 180.0 1159.2 185.0 1157.5 C190.0 1155.8 194.3 1154.1 198.0 1152.6 C201.7 1151.1 203.3 1148.9 207.0 1148.4 C210.7 1147.9 216.2 1148.0 220.0 1149.4 C223.8 1150.8 226.8 1155.2 230.0 1156.8 C233.2 1158.4 236.5 1159.2 239.0 1159.0 C241.5 1158.8 241.7 1156.3 245.0 1155.8 C248.3 1155.3 254.5 1156.0 259.0 1155.8 C263.5 1155.6 267.8 1154.7 272.0 1154.6 C276.2 1154.5 280.8 1154.6 284.0 1155.0 C287.2 1155.4 288.5 1156.5 291.0 1156.8 C293.5 1157.1 295.7 1157.6 299.0 1156.8 C302.3 1156.0 306.8 1152.2 311.0 1151.9 C315.2 1151.6 320.3 1153.2 324.0 1155.0 C327.7 1156.8 329.0 1160.2 333.0 1162.5 C337.0 1164.8 343.0 1166.0 348.0 1168.6 C353.0 1171.2 356.8 1175.2 363.0 1178.0 C369.2 1180.8 379.7 1183.8 385.0 1185.4 C390.3 1187.1 391.7 1187.6 395.0 1187.9 C398.3 1188.2 400.8 1186.7 405.0 1187.0 C409.2 1187.3 415.5 1189.5 420.0 1190.0 C424.5 1190.5 427.5 1190.4 432.0 1190.0 C436.5 1189.6 441.7 1188.2 447.0 1187.7 C452.3 1187.2 460.3 1186.7 464.0 1186.7 C467.7 1186.7 466.3 1186.9 469.0 1187.7 C471.7 1188.5 474.2 1191.2 480.0 1191.4 C485.8 1191.6 496.5 1187.6 504.0 1189.0 C511.5 1190.4 516.0 1198.6 525.0 1200.0 C534.0 1201.4 549.5 1199.0 558.0 1197.5 C566.5 1196.0 568.3 1193.2 576.0 1191.0 C583.7 1188.8 595.0 1184.6 604.0 1184.0 C613.0 1183.4 622.8 1186.5 630.0 1187.5 C637.2 1188.5 641.7 1187.9 647.0 1190.0 C652.3 1192.1 656.0 1197.3 662.0 1200.0 C668.0 1202.7 677.7 1206.3 683.0 1206.0 C688.3 1205.7 691.2 1200.8 694.0 1198.0 C696.8 1195.2 697.2 1193.2 700.0 1189.0 C702.8 1184.8 705.0 1176.7 711.0 1173.0 C717.0 1169.3 728.2 1168.3 736.0 1166.6 C743.8 1164.9 752.2 1163.6 757.5 1163.0 C762.8 1162.4 764.8 1161.3 768.0 1163.0 C771.2 1164.7 773.0 1167.8 777.0 1173.0 C781.0 1178.2 786.8 1190.0 792.0 1194.0 C797.2 1198.0 802.7 1196.4 808.0 1197.0 C813.3 1197.6 819.2 1196.9 824.0 1197.5 C828.8 1198.1 831.3 1200.5 837.0 1200.8 C842.7 1201.0 852.0 1198.6 858.0 1199.0 C864.0 1199.4 866.0 1201.8 873.0 1203.0 C880.0 1204.2 892.6 1206.0 900.0 1206.0 C907.4 1206.0 912.6 1203.1 917.6 1203.0 C922.6 1202.9 924.9 1205.1 930.0 1205.5 C935.1 1205.9 942.0 1205.8 948.0 1205.5 C954.0 1205.2 960.0 1204.6 966.0 1203.7 C972.0 1202.8 974.3 1201.0 984.0 1200.0 C993.7 1199.0 1013.8 1198.9 1024.0 1198.0 C1034.2 1197.1 1037.8 1196.2 1045.0 1194.7 C1052.2 1193.2 1062.2 1190.6 1067.0 1189.0 C1071.8 1187.4 1069.2 1185.8 1074.0 1185.0 C1078.8 1184.2 1090.6 1185.1 1096.0 1184.0 C1101.4 1182.9 1101.8 1180.3 1106.5 1178.5 C1111.2 1176.7 1119.4 1174.4 1124.5 1173.0 C1129.6 1171.6 1133.8 1171.3 1137.0 1170.0 C1140.2 1168.7 1141.0 1166.4 1144.0 1165.0 C1147.0 1163.6 1151.7 1163.6 1155.0 1161.6 C1158.3 1159.6 1161.3 1155.9 1164.0 1153.0 C1166.7 1150.1 1168.0 1147.0 1171.0 1144.0 C1174.0 1141.0 1178.3 1139.3 1182.0 1135.0 C1185.7 1130.7 1189.7 1122.6 1193.0 1118.0 C1196.3 1113.4 1199.0 1110.3 1202.0 1107.6 C1205.0 1104.9 1208.3 1104.0 1211.0 1102.0 C1213.7 1100.0 1215.7 1097.1 1218.0 1095.8 C1220.3 1094.5 1222.0 1095.0 1225.0 1094.0 C1228.0 1093.0 1232.3 1091.3 1236.0 1090.0 C1239.7 1088.7 1242.2 1086.9 1247.0 1086.0 C1251.8 1085.1 1260.2 1084.3 1265.0 1084.6 C1269.8 1084.9 1272.2 1087.1 1275.5 1087.8 C1278.8 1088.5 1280.9 1089.5 1284.5 1089.0 C1288.1 1088.5 1293.1 1085.4 1297.0 1084.6 C1300.9 1083.8 1304.7 1084.8 1308.0 1084.0 C1311.3 1083.2 1314.0 1079.9 1317.0 1079.6 C1320.0 1079.3 1322.2 1081.3 1326.0 1082.0 C1329.8 1082.7 1336.4 1084.0 1340.0 1084.0 C1343.6 1084.0 1345.2 1082.8 1347.5 1082.0 C1349.8 1081.2 1351.2 1078.5 1354.0 1079.0 C1356.8 1079.5 1359.7 1082.4 1364.0 1085.0 C1368.3 1087.6 1375.6 1092.9 1380.0 1094.7 C1384.4 1096.5 1387.3 1094.2 1390.6 1095.8 C1393.9 1097.3 1395.6 1101.5 1400.0 1104.0 C1404.4 1106.5 1412.2 1109.5 1417.0 1111.0 C1421.8 1112.5 1425.5 1111.4 1429.0 1113.0 C1432.5 1114.6 1433.5 1119.0 1438.0 1120.7 C1442.5 1122.5 1449.3 1122.0 1456.0 1123.5 C1462.7 1125.0 1470.8 1127.3 1478.0 1129.6 C1485.2 1131.8 1493.3 1136.3 1499.0 1137.0 C1504.7 1137.7 1507.7 1133.8 1512.0 1134.0 C1516.3 1134.2 1519.4 1138.7 1524.6 1138.0 C1529.8 1137.3 1538.1 1131.8 1543.0 1130.0 C1547.9 1128.2 1549.8 1129.2 1554.0 1127.0 C1558.2 1124.8 1563.3 1119.2 1568.0 1117.0 C1572.7 1114.8 1576.8 1113.2 1582.0 1114.0 C1587.2 1114.8 1592.9 1119.5 1599.0 1122.0 C1605.1 1124.5 1612.9 1126.6 1618.5 1129.0 C1624.1 1131.4 1628.3 1135.0 1632.5 1136.6 C1636.7 1138.2 1639.0 1140.9 1643.7 1138.6 C1648.4 1136.3 1655.1 1127.6 1660.5 1122.6 C1665.9 1117.6 1670.9 1113.3 1676.0 1108.6 C1681.1 1103.9 1686.6 1097.4 1691.0 1094.6 C1695.4 1091.8 1698.2 1094.4 1702.5 1091.8 C1706.8 1089.2 1712.8 1082.0 1716.5 1079.0 C1720.2 1076.0 1722.4 1073.8 1725.0 1073.6 C1727.6 1073.4 1729.5 1074.8 1732.0 1077.8 C1734.5 1080.8 1736.5 1088.1 1740.0 1091.8 C1743.5 1095.5 1747.6 1096.6 1753.0 1100.0 C1758.4 1103.4 1767.8 1111.0 1772.5 1112.0 C1777.2 1113.0 1777.9 1107.0 1781.0 1105.8 C1784.1 1104.6 1787.8 1106.0 1791.0 1105.0 C1794.2 1104.0 1795.8 1101.2 1800.0 1100.0 C1804.2 1098.8 1813.3 1098.3 1816.0 1098.0" fill="none" stroke="#f2e14c" stroke-width="2.4" stroke-linejoin="round"/>
<polygon points="1744,236 1818,433 1818,484 1744,285.5" fill="#6f9aa0" fill-opacity="0.33"/>
<polygon points="1744,285.5 1818,484 1818,536 1744,333.5" fill="#c08a98" fill-opacity="0.18"/>
<line x1="1744" y1="285.5" x2="1818" y2="484" stroke="#f3c4d2" stroke-width="2"/>
<line x1="-1.2" y1="445.9" x2="1823" y2="445.9" stroke="#ee665a" stroke-width="2" stroke-dasharray="2.4 3.6"/>
<line x1="-1.2" y1="447.5" x2="1823" y2="447.5" stroke="#4a9af5" stroke-width="1.3" stroke-dasharray="2.4 3.6"/>
<line x1="0" y1="836" x2="1725" y2="200" stroke="#db4f59" stroke-width="4" stroke-linecap="round"/>
<line x1="862" y1="1060" x2="1824" y2="485" stroke="#db4f59" stroke-width="4" stroke-linecap="round"/>
<path d="M0.5 835.0V850.0M4.7 845.0V851.1M8.8 835.0V857.0M13.0 849.0V887.0M17.2 876.0V908.0M21.3 893.0V914.6M25.5 894.6V921.0M29.6 891.0V922.0M33.8 917.0V937.2M38.0 908.2V941.0M42.1 902.0V929.0M46.3 891.0V919.0M50.5 891.0V928.0M54.6 912.0V948.0M58.8 929.0V953.0M63.0 926.0V966.5M67.1 945.5V981.0M71.3 965.0V992.0M75.4 938.0V983.0M79.6 923.0V952.0M83.8 911.0V932.0M87.9 912.0V945.0M92.1 925.0V956.0M96.3 933.0V956.0M100.4 940.0V956.9M104.6 937.9V955.0M108.8 943.0V966.0M112.9 922.0V948.0M117.1 905.0V933.0M121.3 901.0V926.0M125.4 917.0V956.0M129.6 936.0V961.0M133.7 934.0V963.8M137.9 951.8V974.0M142.1 952.0V978.0M146.2 952.0V980.0M150.4 961.0V972.0M154.6 958.0V998.0M158.7 936.0V989.0M162.9 937.0V958.0M167.1 910.0V953.0M171.2 905.0V937.0M175.4 917.0V938.0M179.5 896.0V936.0M183.7 905.0V923.0M187.9 897.0V909.0M192.0 889.0V908.0M196.2 896.0V927.0M200.4 922.0V940.0M204.5 930.0V939.0M208.7 906.0V941.0M212.9 904.0V920.0M217.0 914.0V928.0M221.2 909.0V931.1M225.4 913.1V922.0M229.5 911.0V951.0M233.7 933.0V956.0M237.8 942.0V990.0M242.0 964.0V981.0M246.2 974.0V986.6M250.3 981.6V1005.0M254.5 998.0V1030.0M258.7 1008.0V1018.0M262.8 1007.0V1039.0M267.0 1011.0V1029.0M271.2 1009.0V1037.0M275.3 1014.0V1043.0M279.5 997.0V1023.0M283.6 987.0V1024.0M287.8 990.0V1004.0M292.0 965.0V1011.0M296.1 955.0V995.0M300.3 969.0V982.0M304.5 936.0V983.0M308.6 945.0V975.0M312.8 959.0V975.0M317.0 963.0V977.0M321.1 936.0V973.0M325.3 952.0V962.0M329.5 951.0V962.0M333.6 943.0V956.0M337.8 928.0V959.0M341.9 916.0V939.0M346.1 936.0V945.0M350.3 930.0V948.0M354.4 933.0V950.0M358.6 942.0V968.0M362.8 944.0V955.0M366.9 939.0V960.0M371.1 935.0V947.0M375.3 916.0V949.0M379.4 920.0V948.0M383.6 902.0V936.0M387.7 904.0V910.0M391.9 896.0V937.0M396.1 917.0V938.0M400.2 923.0V934.0M404.4 913.0V934.0M408.6 901.0V921.0M412.7 897.0V921.0M416.9 906.0V920.0M421.1 908.0V932.0M425.2 906.0V924.0M429.4 901.0V922.0M433.6 901.0V948.0M437.7 926.0V957.0M441.9 950.0V1037.0M446.0 975.0V984.0M450.2 959.0V985.0M454.4 953.0V979.0M458.5 954.0V972.0M462.7 947.0V970.0M466.9 941.0V968.0M471.0 949.0V963.0M475.2 929.0V957.0M479.4 921.0V953.0M483.5 934.0V944.0M487.7 939.0V968.0M491.8 939.0V968.0M496.0 932.0V964.0M500.2 926.0V946.0M504.3 926.0V939.0M508.5 931.0V943.0M512.7 937.0V948.0M516.8 934.0V965.0M521.0 954.0V965.0M525.2 950.0V986.0M529.3 957.0V986.0M533.5 975.0V1003.0M537.7 975.0V1003.0M541.8 979.0V1018.0M546.0 989.0V1008.0M550.1 980.0V1001.0M554.3 981.0V999.0M558.5 974.0V1000.0M562.6 978.0V1002.0M566.8 970.0V1019.0M571.0 1009.0V1027.0M575.1 1012.0V1027.0M579.3 1014.0V1031.0M583.5 1001.0V1038.0M587.6 989.0V1018.0M591.8 975.0V1021.0M595.9 979.0V1015.0M600.1 985.0V1000.0M604.3 979.0V1019.0M608.4 981.0V1007.0M612.6 983.0V1002.0M616.8 979.0V997.0M620.9 978.0V995.0M625.1 969.0V991.0M629.3 972.0V983.0M633.4 974.0V983.0M637.6 956.0V982.0M641.8 954.0V987.0M645.9 965.0V994.0M650.1 961.0V973.0M654.2 968.0V975.0M658.4 959.0V1008.0M662.6 955.0V1003.0M666.7 951.0V982.0M670.9 956.0V984.0M675.1 962.0V984.0M679.2 952.1V966.0M683.4 954.0V967.1M687.6 928.0V965.0M691.7 936.0V992.0M695.9 986.0V1089.0M700.0 935.0V1030.0M704.2 938.0V992.0M708.4 978.7V1009.0M712.5 972.0V997.7M716.7 972.0V994.0M720.9 982.0V1009.0M725.0 995.0V1011.0M729.2 1001.5V1012.0M733.4 1004.5V1012.0M737.5 991.0V1020.0M741.7 984.0V1004.0M745.9 993.0V1006.0M750.0 989.0V1015.0M754.2 988.0V1021.0M758.3 991.1V1010.0M762.5 996.0V1013.1M766.7 985.0V1014.0M770.8 987.0V1018.0M775.0 1001.0V1019.0M779.2 1001.0V1034.0M783.3 1017.0V1031.0M787.5 1015.3V1029.0M791.7 1009.0V1026.3M795.8 1001.0V1028.0M800.0 1020.0V1046.0M804.1 1013.0V1036.0M808.3 1015.0V1044.0M812.5 1013.4V1045.0M816.6 1024.0V1033.4M820.8 1009.0V1044.0M825.0 1020.0V1030.0M829.1 1022.0V1041.0M833.3 1028.0V1043.0M837.5 1037.0V1054.4M841.6 1036.4V1061.0M845.8 1022.0V1062.0M850.0 1036.0V1060.0M854.1 1033.0V1060.0M858.3 1039.0V1055.0M862.4 1043.0V1065.0M866.6 1048.0V1061.0M870.8 1048.0V1060.0M874.9 1043.0V1072.0M879.1 1038.0V1059.0M883.3 1047.0V1060.0M887.4 1032.0V1065.0M891.6 1020.2V1043.0M895.8 1017.0V1036.2M899.9 1027.0V1038.0M904.1 1009.0V1036.0M908.2 980.0V1016.0M912.4 974.0V988.0M916.6 970.0V981.1M920.7 967.0V996.1M924.9 960.0V983.0M929.1 962.0V978.0M933.2 953.0V993.0M937.4 968.0V990.8M941.6 970.0V989.8M945.7 971.0V984.0M949.9 964.0V983.0M954.1 967.0V976.0M958.2 947.0V977.0M962.4 959.0V969.0M966.5 951.0V971.0M970.7 956.0V970.0M974.9 949.0V968.0M979.0 946.0V957.0M983.2 935.0V966.0M987.4 953.0V974.0M991.5 951.0V960.0M995.7 942.0V969.0M999.9 956.0V968.0M1004.0 953.0V968.0M1008.2 961.0V971.0M1012.3 958.0V982.0M1016.5 958.0V978.0M1020.7 959.0V970.0M1024.8 952.0V976.0M1029.0 934.0V965.0M1033.2 941.0V957.0M1037.3 929.0V951.0M1041.5 898.0V931.0M1045.7 898.0V922.0M1049.8 890.0V913.0M1054.0 890.0V920.0M1058.2 900.0V920.0M1062.3 900.0V922.0M1066.5 885.0V920.0M1070.6 895.0V930.0M1074.8 900.0V928.0M1079.0 897.0V917.0M1083.1 894.0V913.0M1087.3 882.0V902.0M1091.5 864.0V891.0M1095.6 873.0V906.0M1099.8 899.0V910.0M1104.0 884.0V909.0M1108.1 867.0V890.0M1112.3 875.0V887.0M1116.4 882.0V888.0M1120.6 864.0V894.0M1124.8 869.0V907.0M1128.9 849.0V904.0M1133.1 824.0V859.0M1137.3 784.0V838.0M1141.4 776.0V788.0M1145.6 748.0V789.0M1149.8 721.0V758.0M1153.9 685.0V728.0M1158.1 661.0V697.0M1162.3 659.0V674.0M1166.4 658.0V685.5M1170.6 675.5V703.0M1174.7 699.0V718.0M1178.9 650.0V714.0M1183.1 597.0V663.0M1187.2 587.0V625.0M1191.4 591.0V603.0M1195.6 582.0V596.0M1199.7 579.5V599.0M1203.9 533.0V584.5M1208.1 539.0V598.0M1212.2 582.0V631.5M1216.4 596.5V663.0M1220.5 592.5V640.0M1224.7 566.0V624.0M1228.9 548.0V583.0M1233.0 519.0V580.0M1237.2 472.0V530.0M1241.4 477.0V496.0M1245.5 473.5V488.0M1249.7 442.0V494.5M1253.9 444.0V457.0M1258.0 385.0V465.0M1262.2 352.0V427.0M1266.4 411.0V427.5M1270.5 402.5V443.0M1274.7 427.0V560.0M1278.8 506.0V560.0M1283.0 503.0V540.0M1287.2 534.0V608.0M1291.3 573.0V610.0M1295.5 557.0V581.0M1299.7 573.0V638.0M1303.8 620.0V667.0M1308.0 638.5V672.0M1312.2 638.5V708.0M1316.3 664.5V719.0M1320.5 670.0V686.5M1324.6 648.0V675.0M1328.8 639.0V655.0M1333.0 599.0V662.0M1337.1 574.5V629.0M1341.3 564.5V587.0M1345.5 575.0V601.0M1349.6 594.0V648.0M1353.8 639.0V663.0M1358.0 627.0V677.0M1362.1 621.0V649.5M1366.3 608.0V641.5M1370.5 601.0V634.0M1374.6 574.0V612.0M1378.8 565.0V618.0M1382.9 570.6V604.0M1387.1 553.5V602.6M1391.3 514.0V561.5M1395.4 512.0V542.7M1399.6 519.7V549.5M1403.8 484.7V537.5M1407.9 469.5V508.7M1412.1 462.0V480.5M1416.3 458.0V512.0M1420.4 492.0V546.0M1424.6 481.7V552.0M1428.7 493.7V521.6M1432.9 495.0V518.6M1437.1 443.0V510.0M1441.2 445.0V466.0M1445.4 427.5V452.0M1449.6 429.5V446.5M1453.7 411.0V441.5M1457.9 401.0V414.0M1462.1 390.5V421.0M1466.2 382.5V410.5M1470.4 383.5V394.0M1474.6 384.0V405.0M1478.7 378.0V389.0M1482.9 368.0V391.0M1487.0 380.0V390.5M1491.2 342.7V405.5M1495.4 344.7V391.0M1499.5 384.0V392.0M1503.7 382.0V437.0M1507.9 417.0V470.0M1512.0 452.0V497.0M1516.2 489.0V504.0M1520.4 473.0V521.0M1524.5 451.0V516.0M1528.7 451.0V467.0M1532.8 400.0V462.0M1537.0 400.0V408.0M1541.2 397.6V407.0M1545.3 384.0V409.6M1549.5 369.6V392.0M1553.7 367.5V378.6M1557.8 366.5V384.0M1562.0 373.0V425.0M1566.2 385.7V431.0M1570.3 345.0V395.7M1574.5 352.0V367.0M1578.7 351.7V359.0M1582.8 327.0V358.7M1587.0 311.0V350.0M1591.1 254.0V330.0M1595.3 231.0V342.0M1599.5 290.0V346.0M1603.6 283.0V303.0M1607.8 273.7V303.0M1612.0 267.0V278.7M1616.1 258.0V289.0M1620.3 260.7V294.0M1624.5 233.0V274.7M1628.6 214.0V245.0M1632.8 205.0V238.0M1636.9 220.0V283.0M1641.1 260.0V280.0M1645.3 269.0V337.5M1649.4 321.5V433.5M1653.6 418.0V524.0M1657.8 409.0V433.0M1661.9 410.0V466.0M1666.1 419.0V466.0M1670.3 428.0V510.0M1674.4 488.0V536.0M1678.6 458.7V525.0M1682.8 451.7V501.0M1686.9 396.3V496.0M1691.1 375.0V401.3M1695.2 385.0V396.0M1699.4 334.4V397.0M1703.6 325.8V350.4M1707.7 327.8V347.5M1711.9 305.8V349.5M1716.1 308.0V328.8M1720.2 307.0V389.0M1724.4 376.8V388.0M1728.6 320.7V391.8M1732.7 284.7V332.7M1736.9 263.0V292.7M1741.0 262.0V288.0M1745.2 250.0V274.0M1749.4 259.0V296.0M1753.5 280.0V307.0M1757.7 290.0V313.0M1761.9 300.0V364.0M1766.0 345.0V368.0M1770.2 341.0V404.7M1774.4 364.0V392.7M1778.5 353.0V422.0M1782.7 387.0V427.0M1786.9 384.5V401.0M1791.0 377.0V392.5M1795.2 374.0V434.0M1799.3 426.0V498.0M1803.5 466.5V531.0M1807.7 468.7V497.0M1811.8 453.0V477.7M1816.0 436.7V469.0" stroke="#c6c6c6" stroke-width="2" fill="none"/>
<g fill="#f1ae82"><rect x="-1.4" y="843.0" width="3.8" height="6.0"/><rect x="2.8" y="849.0" width="3.8" height="1.5"/><rect x="6.9" y="850.1" width="3.8" height="3.9"/><rect x="11.1" y="854.0" width="3.8" height="25.0"/><rect x="15.3" y="879.0" width="3.8" height="16.0"/><rect x="19.4" y="895.0" width="3.8" height="4.6"/><rect x="23.6" y="899.6" width="3.8" height="8.4"/><rect x="27.7" y="908.0" width="3.8" height="11.0"/><rect x="31.9" y="919.0" width="3.8" height="3.2"/><rect x="36.1" y="922.2" width="3.8" height="1.5"/><rect x="48.6" y="893.0" width="3.8" height="20.0"/><rect x="52.7" y="913.0" width="3.8" height="20.0"/><rect x="56.9" y="933.0" width="3.8" height="10.0"/><rect x="61.1" y="943.0" width="3.8" height="10.5"/><rect x="65.2" y="953.5" width="3.8" height="21.5"/><rect x="69.4" y="975.0" width="3.8" height="2.0"/><rect x="86.0" y="914.0" width="3.8" height="16.0"/><rect x="90.2" y="930.0" width="3.8" height="13.0"/><rect x="94.4" y="943.0" width="3.8" height="7.0"/><rect x="98.5" y="950.0" width="3.8" height="1.9"/><rect x="102.7" y="951.9" width="3.8" height="1.5"/><rect x="119.4" y="911.0" width="3.8" height="7.0"/><rect x="123.5" y="918.0" width="3.8" height="20.0"/><rect x="127.7" y="938.0" width="3.8" height="10.0"/><rect x="131.8" y="948.0" width="3.8" height="9.8"/><rect x="136.0" y="957.8" width="3.8" height="10.2"/><rect x="144.3" y="966.0" width="3.8" height="4.0"/><rect x="152.7" y="963.0" width="3.8" height="24.0"/><rect x="173.5" y="922.0" width="3.8" height="8.0"/><rect x="190.1" y="903.0" width="3.8" height="3.0"/><rect x="194.3" y="906.0" width="3.8" height="20.0"/><rect x="198.5" y="926.0" width="3.8" height="9.0"/><rect x="211.0" y="914.0" width="3.8" height="4.0"/><rect x="219.3" y="917.0" width="3.8" height="1.5"/><rect x="223.5" y="918.1" width="3.8" height="1.5"/><rect x="227.6" y="919.0" width="3.8" height="19.0"/><rect x="231.8" y="938.0" width="3.8" height="10.0"/><rect x="235.9" y="948.0" width="3.8" height="24.0"/><rect x="240.1" y="972.0" width="3.8" height="5.0"/><rect x="244.3" y="977.0" width="3.8" height="7.6"/><rect x="248.4" y="984.6" width="3.8" height="17.4"/><rect x="252.6" y="1002.0" width="3.8" height="10.0"/><rect x="256.8" y="1012.0" width="3.8" height="5.0"/><rect x="260.9" y="1017.0" width="3.8" height="7.0"/><rect x="269.3" y="1014.0" width="3.8" height="21.0"/><rect x="306.7" y="953.0" width="3.8" height="14.0"/><rect x="323.4" y="953.0" width="3.8" height="5.0"/><rect x="340.0" y="930.0" width="3.8" height="8.0"/><rect x="344.2" y="938.0" width="3.8" height="6.0"/><rect x="348.4" y="944.0" width="3.8" height="1.5"/><rect x="352.5" y="945.0" width="3.8" height="3.0"/><rect x="356.7" y="948.0" width="3.8" height="5.0"/><rect x="369.2" y="943.0" width="3.8" height="1.5"/><rect x="390.0" y="906.0" width="3.8" height="21.0"/><rect x="394.2" y="927.0" width="3.8" height="1.5"/><rect x="398.3" y="928.0" width="3.8" height="4.0"/><rect x="410.8" y="907.0" width="3.8" height="11.0"/><rect x="415.0" y="918.0" width="3.8" height="1.5"/><rect x="423.3" y="912.0" width="3.8" height="9.0"/><rect x="431.7" y="913.0" width="3.8" height="30.0"/><rect x="435.8" y="943.0" width="3.8" height="12.0"/><rect x="440.0" y="955.0" width="3.8" height="26.0"/><rect x="452.5" y="965.0" width="3.8" height="1.5"/><rect x="477.5" y="933.0" width="3.8" height="10.0"/><rect x="485.8" y="940.0" width="3.8" height="23.0"/><rect x="502.4" y="932.0" width="3.8" height="1.5"/><rect x="506.6" y="933.0" width="3.8" height="6.0"/><rect x="510.8" y="939.0" width="3.8" height="5.0"/><rect x="514.9" y="944.0" width="3.8" height="17.0"/><rect x="523.3" y="960.0" width="3.8" height="11.0"/><rect x="527.4" y="971.0" width="3.8" height="14.0"/><rect x="539.9" y="981.0" width="3.8" height="19.0"/><rect x="552.4" y="984.0" width="3.8" height="7.0"/><rect x="556.6" y="991.0" width="3.8" height="3.0"/><rect x="564.9" y="980.0" width="3.8" height="31.0"/><rect x="569.1" y="1011.0" width="3.8" height="13.0"/><rect x="577.4" y="1015.0" width="3.8" height="13.0"/><rect x="594.0" y="989.0" width="3.8" height="8.0"/><rect x="602.4" y="991.0" width="3.8" height="15.0"/><rect x="619.0" y="981.0" width="3.8" height="6.0"/><rect x="627.4" y="973.0" width="3.8" height="5.0"/><rect x="639.9" y="968.0" width="3.8" height="13.0"/><rect x="656.5" y="969.0" width="3.8" height="21.0"/><rect x="669.0" y="959.0" width="3.8" height="12.0"/><rect x="689.8" y="939.0" width="3.8" height="50.0"/><rect x="694.0" y="989.0" width="3.8" height="39.0"/><rect x="702.3" y="950.0" width="3.8" height="41.0"/><rect x="719.0" y="984.0" width="3.8" height="12.0"/><rect x="723.1" y="996.0" width="3.8" height="11.0"/><rect x="731.5" y="1005.5" width="3.8" height="4.5"/><rect x="748.1" y="995.0" width="3.8" height="5.0"/><rect x="752.3" y="1000.0" width="3.8" height="6.0"/><rect x="768.9" y="997.0" width="3.8" height="8.0"/><rect x="773.1" y="1005.0" width="3.8" height="1.5"/><rect x="777.3" y="1006.0" width="3.8" height="15.0"/><rect x="793.9" y="1011.0" width="3.8" height="11.0"/><rect x="798.1" y="1022.0" width="3.8" height="6.0"/><rect x="806.4" y="1017.0" width="3.8" height="23.0"/><rect x="823.1" y="1026.0" width="3.8" height="1.5"/><rect x="827.2" y="1027.0" width="3.8" height="11.0"/><rect x="831.4" y="1038.0" width="3.8" height="1.5"/><rect x="835.6" y="1039.0" width="3.8" height="7.4"/><rect x="839.7" y="1046.4" width="3.8" height="11.6"/><rect x="848.1" y="1039.0" width="3.8" height="13.0"/><rect x="856.4" y="1045.0" width="3.8" height="2.0"/><rect x="860.5" y="1047.0" width="3.8" height="12.0"/><rect x="868.9" y="1054.0" width="3.8" height="5.0"/><rect x="881.4" y="1048.0" width="3.8" height="4.0"/><rect x="898.0" y="1029.0" width="3.8" height="5.0"/><rect x="914.7" y="975.0" width="3.8" height="3.1"/><rect x="931.3" y="965.0" width="3.8" height="13.0"/><rect x="935.5" y="978.0" width="3.8" height="6.8"/><rect x="943.8" y="972.0" width="3.8" height="9.0"/><rect x="952.2" y="972.0" width="3.8" height="3.0"/><rect x="960.5" y="964.0" width="3.8" height="3.0"/><rect x="981.3" y="947.0" width="3.8" height="11.0"/><rect x="985.5" y="958.0" width="3.8" height="1.5"/><rect x="993.8" y="954.0" width="3.8" height="11.0"/><rect x="1002.1" y="958.0" width="3.8" height="9.0"/><rect x="1014.6" y="963.0" width="3.8" height="2.0"/><rect x="1043.8" y="899.0" width="3.8" height="10.0"/><rect x="1052.1" y="902.0" width="3.8" height="8.0"/><rect x="1064.6" y="902.0" width="3.8" height="10.0"/><rect x="1068.7" y="912.0" width="3.8" height="8.0"/><rect x="1093.7" y="881.0" width="3.8" height="19.0"/><rect x="1097.9" y="900.0" width="3.8" height="7.0"/><rect x="1114.5" y="883.0" width="3.8" height="3.0"/><rect x="1122.9" y="881.0" width="3.8" height="8.0"/><rect x="1164.5" y="663.0" width="3.8" height="18.5"/><rect x="1168.7" y="681.5" width="3.8" height="18.5"/><rect x="1172.8" y="700.0" width="3.8" height="12.0"/><rect x="1206.2" y="547.0" width="3.8" height="36.0"/><rect x="1210.3" y="583.0" width="3.8" height="40.5"/><rect x="1218.6" y="597.5" width="3.8" height="24.5"/><rect x="1260.3" y="397.0" width="3.8" height="17.0"/><rect x="1264.5" y="414.0" width="3.8" height="1.5"/><rect x="1268.6" y="414.5" width="3.8" height="13.5"/><rect x="1272.8" y="428.0" width="3.8" height="114.0"/><rect x="1281.1" y="520.0" width="3.8" height="16.0"/><rect x="1285.3" y="536.0" width="3.8" height="71.0"/><rect x="1293.6" y="574.0" width="3.8" height="1.5"/><rect x="1297.8" y="575.0" width="3.8" height="55.0"/><rect x="1301.9" y="630.0" width="3.8" height="24.0"/><rect x="1310.3" y="639.5" width="3.8" height="61.5"/><rect x="1339.4" y="576.5" width="3.8" height="8.5"/><rect x="1343.6" y="585.0" width="3.8" height="11.0"/><rect x="1347.7" y="596.0" width="3.8" height="47.0"/><rect x="1351.9" y="643.0" width="3.8" height="16.0"/><rect x="1360.2" y="631.0" width="3.8" height="8.5"/><rect x="1376.9" y="579.0" width="3.8" height="21.0"/><rect x="1393.5" y="517.0" width="3.8" height="7.7"/><rect x="1397.7" y="524.7" width="3.8" height="9.8"/><rect x="1414.4" y="463.0" width="3.8" height="31.0"/><rect x="1418.5" y="494.0" width="3.8" height="48.0"/><rect x="1426.8" y="498.7" width="3.8" height="9.9"/><rect x="1447.7" y="431.5" width="3.8" height="5.0"/><rect x="1468.5" y="387.5" width="3.8" height="2.5"/><rect x="1481.0" y="380.0" width="3.8" height="6.0"/><rect x="1485.1" y="386.0" width="3.8" height="1.5"/><rect x="1493.5" y="356.7" width="3.8" height="29.3"/><rect x="1501.8" y="386.0" width="3.8" height="41.0"/><rect x="1506.0" y="427.0" width="3.8" height="26.0"/><rect x="1510.1" y="453.0" width="3.8" height="41.0"/><rect x="1518.5" y="490.0" width="3.8" height="21.0"/><rect x="1555.9" y="371.5" width="3.8" height="7.5"/><rect x="1560.1" y="379.0" width="3.8" height="44.0"/><rect x="1593.4" y="259.0" width="3.8" height="79.0"/><rect x="1601.7" y="295.0" width="3.8" height="2.0"/><rect x="1614.2" y="275.0" width="3.8" height="6.0"/><rect x="1630.9" y="222.0" width="3.8" height="1.5"/><rect x="1635.0" y="223.0" width="3.8" height="42.0"/><rect x="1639.2" y="265.0" width="3.8" height="5.0"/><rect x="1643.4" y="270.0" width="3.8" height="54.5"/><rect x="1647.5" y="324.5" width="3.8" height="106.0"/><rect x="1660.0" y="415.0" width="3.8" height="46.0"/><rect x="1668.4" y="436.0" width="3.8" height="56.0"/><rect x="1672.5" y="492.0" width="3.8" height="20.0"/><rect x="1680.9" y="468.7" width="3.8" height="24.3"/><rect x="1705.8" y="337.8" width="3.8" height="3.7"/><rect x="1718.3" y="311.0" width="3.8" height="74.0"/><rect x="1739.1" y="267.0" width="3.8" height="6.0"/><rect x="1747.5" y="267.0" width="3.8" height="21.0"/><rect x="1751.6" y="288.0" width="3.8" height="6.0"/><rect x="1755.8" y="294.0" width="3.8" height="11.0"/><rect x="1760.0" y="305.0" width="3.8" height="53.0"/><rect x="1768.3" y="346.0" width="3.8" height="43.7"/><rect x="1776.6" y="370.0" width="3.8" height="39.0"/><rect x="1793.3" y="382.0" width="3.8" height="44.0"/><rect x="1797.4" y="443.0" width="3.8" height="31.5"/><rect x="1801.6" y="474.5" width="3.8" height="19.5"/></g>
<g fill="#8fdc6c"><rect x="40.2" y="906.0" width="3.8" height="17.0"/><rect x="44.4" y="893.0" width="3.8" height="13.0"/><rect x="73.5" y="948.0" width="3.8" height="29.0"/><rect x="77.7" y="928.0" width="3.8" height="20.0"/><rect x="81.9" y="914.0" width="3.8" height="14.0"/><rect x="106.9" y="945.0" width="3.8" height="8.0"/><rect x="111.0" y="930.0" width="3.8" height="15.0"/><rect x="115.2" y="911.0" width="3.8" height="19.0"/><rect x="140.2" y="966.0" width="3.8" height="2.0"/><rect x="148.5" y="963.0" width="3.8" height="7.0"/><rect x="156.8" y="953.0" width="3.8" height="34.0"/><rect x="161.0" y="938.0" width="3.8" height="15.0"/><rect x="165.2" y="927.0" width="3.8" height="11.0"/><rect x="169.3" y="922.0" width="3.8" height="5.0"/><rect x="177.6" y="913.0" width="3.8" height="17.0"/><rect x="181.8" y="906.0" width="3.8" height="7.0"/><rect x="186.0" y="903.0" width="3.8" height="3.0"/><rect x="202.6" y="933.0" width="3.8" height="2.0"/><rect x="206.8" y="914.0" width="3.8" height="19.0"/><rect x="215.1" y="917.0" width="3.8" height="1.5"/><rect x="265.1" y="1014.0" width="3.8" height="10.0"/><rect x="273.4" y="1017.0" width="3.8" height="18.0"/><rect x="277.6" y="1009.0" width="3.8" height="8.0"/><rect x="281.7" y="1001.0" width="3.8" height="8.0"/><rect x="285.9" y="996.0" width="3.8" height="5.0"/><rect x="290.1" y="977.0" width="3.8" height="19.0"/><rect x="294.2" y="972.0" width="3.8" height="5.0"/><rect x="298.4" y="970.0" width="3.8" height="2.0"/><rect x="302.6" y="953.0" width="3.8" height="17.0"/><rect x="310.9" y="967.0" width="3.8" height="1.5"/><rect x="315.1" y="965.0" width="3.8" height="2.0"/><rect x="319.2" y="953.0" width="3.8" height="12.0"/><rect x="327.6" y="953.0" width="3.8" height="5.0"/><rect x="331.7" y="953.0" width="3.8" height="1.5"/><rect x="335.9" y="930.0" width="3.8" height="23.0"/><rect x="360.9" y="945.0" width="3.8" height="8.0"/><rect x="365.0" y="943.0" width="3.8" height="2.0"/><rect x="373.4" y="933.0" width="3.8" height="11.0"/><rect x="377.5" y="926.0" width="3.8" height="7.0"/><rect x="381.7" y="908.0" width="3.8" height="18.0"/><rect x="385.8" y="906.0" width="3.8" height="2.0"/><rect x="402.5" y="916.0" width="3.8" height="16.0"/><rect x="406.7" y="907.0" width="3.8" height="9.0"/><rect x="419.2" y="912.0" width="3.8" height="7.0"/><rect x="427.5" y="913.0" width="3.8" height="8.0"/><rect x="444.1" y="981.0" width="3.8" height="1.5"/><rect x="448.3" y="965.0" width="3.8" height="16.0"/><rect x="456.6" y="966.0" width="3.8" height="1.5"/><rect x="460.8" y="964.0" width="3.8" height="2.0"/><rect x="465.0" y="955.0" width="3.8" height="9.0"/><rect x="469.1" y="953.0" width="3.8" height="2.0"/><rect x="473.3" y="933.0" width="3.8" height="20.0"/><rect x="481.6" y="940.0" width="3.8" height="3.0"/><rect x="489.9" y="949.0" width="3.8" height="14.0"/><rect x="494.1" y="936.0" width="3.8" height="13.0"/><rect x="498.3" y="932.0" width="3.8" height="4.0"/><rect x="519.1" y="960.0" width="3.8" height="1.5"/><rect x="531.6" y="985.0" width="3.8" height="1.5"/><rect x="535.8" y="981.0" width="3.8" height="4.0"/><rect x="544.1" y="991.0" width="3.8" height="9.0"/><rect x="548.2" y="984.0" width="3.8" height="7.0"/><rect x="560.7" y="980.0" width="3.8" height="14.0"/><rect x="573.2" y="1015.0" width="3.8" height="9.0"/><rect x="581.6" y="1015.0" width="3.8" height="13.0"/><rect x="585.7" y="1006.0" width="3.8" height="9.0"/><rect x="589.9" y="989.0" width="3.8" height="17.0"/><rect x="598.2" y="991.0" width="3.8" height="6.0"/><rect x="606.5" y="984.0" width="3.8" height="22.0"/><rect x="610.7" y="984.0" width="3.8" height="1.5"/><rect x="614.9" y="981.0" width="3.8" height="3.0"/><rect x="623.2" y="973.0" width="3.8" height="14.0"/><rect x="631.5" y="978.0" width="3.8" height="1.5"/><rect x="635.7" y="968.0" width="3.8" height="10.0"/><rect x="644.0" y="970.0" width="3.8" height="11.0"/><rect x="648.2" y="969.0" width="3.8" height="1.5"/><rect x="652.3" y="969.0" width="3.8" height="1.5"/><rect x="660.7" y="969.0" width="3.8" height="21.0"/><rect x="664.8" y="959.0" width="3.8" height="10.0"/><rect x="673.2" y="965.0" width="3.8" height="6.0"/><rect x="677.3" y="964.1" width="3.8" height="1.5"/><rect x="681.5" y="964.0" width="3.8" height="1.5"/><rect x="685.7" y="939.0" width="3.8" height="25.0"/><rect x="698.1" y="950.0" width="3.8" height="78.0"/><rect x="706.5" y="984.7" width="3.8" height="6.3"/><rect x="710.6" y="984.0" width="3.8" height="1.5"/><rect x="714.8" y="984.0" width="3.8" height="1.5"/><rect x="727.3" y="1005.5" width="3.8" height="1.5"/><rect x="735.6" y="1003.0" width="3.8" height="7.0"/><rect x="739.8" y="996.0" width="3.8" height="7.0"/><rect x="744.0" y="995.0" width="3.8" height="1.5"/><rect x="756.4" y="1003.1" width="3.8" height="2.9"/><rect x="760.6" y="1001.0" width="3.8" height="2.1"/><rect x="764.8" y="997.0" width="3.8" height="4.0"/><rect x="781.4" y="1021.0" width="3.8" height="1.5"/><rect x="785.6" y="1018.3" width="3.8" height="2.7"/><rect x="789.8" y="1011.0" width="3.8" height="7.3"/><rect x="802.2" y="1017.0" width="3.8" height="11.0"/><rect x="810.6" y="1030.4" width="3.8" height="9.6"/><rect x="814.7" y="1026.0" width="3.8" height="4.4"/><rect x="818.9" y="1026.0" width="3.8" height="1.5"/><rect x="843.9" y="1039.0" width="3.8" height="19.0"/><rect x="852.2" y="1045.0" width="3.8" height="7.0"/><rect x="864.7" y="1054.0" width="3.8" height="5.0"/><rect x="873.0" y="1049.0" width="3.8" height="10.0"/><rect x="877.2" y="1048.0" width="3.8" height="1.5"/><rect x="885.5" y="1038.0" width="3.8" height="14.0"/><rect x="889.7" y="1034.2" width="3.8" height="3.8"/><rect x="893.9" y="1029.0" width="3.8" height="5.2"/><rect x="902.2" y="1011.0" width="3.8" height="23.0"/><rect x="906.3" y="985.0" width="3.8" height="26.0"/><rect x="910.5" y="975.0" width="3.8" height="10.0"/><rect x="918.8" y="975.0" width="3.8" height="3.1"/><rect x="923.0" y="965.0" width="3.8" height="10.0"/><rect x="927.2" y="965.0" width="3.8" height="1.5"/><rect x="939.7" y="972.0" width="3.8" height="12.8"/><rect x="948.0" y="972.0" width="3.8" height="9.0"/><rect x="956.3" y="964.0" width="3.8" height="11.0"/><rect x="964.6" y="965.0" width="3.8" height="2.0"/><rect x="968.8" y="958.0" width="3.8" height="7.0"/><rect x="973.0" y="951.0" width="3.8" height="7.0"/><rect x="977.1" y="947.0" width="3.8" height="4.0"/><rect x="989.6" y="954.0" width="3.8" height="5.0"/><rect x="998.0" y="958.0" width="3.8" height="7.0"/><rect x="1006.3" y="964.0" width="3.8" height="3.0"/><rect x="1010.4" y="963.0" width="3.8" height="1.5"/><rect x="1018.8" y="963.0" width="3.8" height="2.0"/><rect x="1022.9" y="962.0" width="3.8" height="1.5"/><rect x="1027.1" y="951.0" width="3.8" height="11.0"/><rect x="1031.3" y="946.0" width="3.8" height="5.0"/><rect x="1035.4" y="930.0" width="3.8" height="16.0"/><rect x="1039.6" y="899.0" width="3.8" height="31.0"/><rect x="1047.9" y="902.0" width="3.8" height="7.0"/><rect x="1056.3" y="904.0" width="3.8" height="6.0"/><rect x="1060.4" y="902.0" width="3.8" height="2.0"/><rect x="1072.9" y="912.0" width="3.8" height="8.0"/><rect x="1077.1" y="909.0" width="3.8" height="3.0"/><rect x="1081.2" y="898.0" width="3.8" height="11.0"/><rect x="1085.4" y="888.0" width="3.8" height="10.0"/><rect x="1089.6" y="881.0" width="3.8" height="7.0"/><rect x="1102.1" y="885.0" width="3.8" height="22.0"/><rect x="1106.2" y="884.0" width="3.8" height="1.5"/><rect x="1110.4" y="883.0" width="3.8" height="1.5"/><rect x="1118.7" y="881.0" width="3.8" height="5.0"/><rect x="1127.0" y="854.0" width="3.8" height="35.0"/><rect x="1131.2" y="828.0" width="3.8" height="26.0"/><rect x="1135.4" y="785.0" width="3.8" height="43.0"/><rect x="1139.5" y="779.0" width="3.8" height="6.0"/><rect x="1143.7" y="753.0" width="3.8" height="26.0"/><rect x="1147.9" y="722.0" width="3.8" height="31.0"/><rect x="1152.0" y="691.0" width="3.8" height="31.0"/><rect x="1156.2" y="673.0" width="3.8" height="18.0"/><rect x="1160.4" y="663.0" width="3.8" height="10.0"/><rect x="1177.0" y="658.0" width="3.8" height="54.0"/><rect x="1181.2" y="607.0" width="3.8" height="51.0"/><rect x="1185.3" y="599.0" width="3.8" height="8.0"/><rect x="1189.5" y="595.0" width="3.8" height="4.0"/><rect x="1193.7" y="594.0" width="3.8" height="1.5"/><rect x="1197.8" y="581.5" width="3.8" height="12.5"/><rect x="1202.0" y="547.0" width="3.8" height="34.5"/><rect x="1214.5" y="597.5" width="3.8" height="26.0"/><rect x="1222.8" y="570.0" width="3.8" height="52.0"/><rect x="1227.0" y="562.0" width="3.8" height="8.0"/><rect x="1231.1" y="522.0" width="3.8" height="40.0"/><rect x="1235.3" y="486.0" width="3.8" height="36.0"/><rect x="1239.5" y="483.0" width="3.8" height="3.0"/><rect x="1243.6" y="476.5" width="3.8" height="6.5"/><rect x="1247.8" y="456.0" width="3.8" height="20.5"/><rect x="1252.0" y="447.0" width="3.8" height="9.0"/><rect x="1256.1" y="397.0" width="3.8" height="50.0"/><rect x="1276.9" y="520.0" width="3.8" height="22.0"/><rect x="1289.4" y="574.0" width="3.8" height="33.0"/><rect x="1306.1" y="639.5" width="3.8" height="14.5"/><rect x="1314.4" y="676.5" width="3.8" height="24.5"/><rect x="1318.6" y="674.0" width="3.8" height="2.5"/><rect x="1322.7" y="653.0" width="3.8" height="21.0"/><rect x="1326.9" y="649.0" width="3.8" height="4.0"/><rect x="1331.1" y="611.0" width="3.8" height="38.0"/><rect x="1335.2" y="576.5" width="3.8" height="34.5"/><rect x="1356.1" y="631.0" width="3.8" height="28.0"/><rect x="1364.4" y="616.0" width="3.8" height="23.5"/><rect x="1368.6" y="611.0" width="3.8" height="5.0"/><rect x="1372.7" y="579.0" width="3.8" height="32.0"/><rect x="1381.0" y="587.6" width="3.8" height="12.4"/><rect x="1385.2" y="555.5" width="3.8" height="32.1"/><rect x="1389.4" y="517.0" width="3.8" height="38.5"/><rect x="1401.9" y="498.7" width="3.8" height="35.8"/><rect x="1406.0" y="470.5" width="3.8" height="28.2"/><rect x="1410.2" y="463.0" width="3.8" height="7.5"/><rect x="1422.7" y="498.7" width="3.8" height="43.3"/><rect x="1431.0" y="500.0" width="3.8" height="8.6"/><rect x="1435.2" y="453.0" width="3.8" height="47.0"/><rect x="1439.3" y="447.0" width="3.8" height="6.0"/><rect x="1443.5" y="431.5" width="3.8" height="15.5"/><rect x="1451.8" y="412.0" width="3.8" height="24.5"/><rect x="1456.0" y="411.0" width="3.8" height="1.5"/><rect x="1460.2" y="402.5" width="3.8" height="8.5"/><rect x="1464.3" y="387.5" width="3.8" height="15.0"/><rect x="1472.7" y="386.0" width="3.8" height="4.0"/><rect x="1476.8" y="380.0" width="3.8" height="6.0"/><rect x="1489.3" y="356.7" width="3.8" height="30.8"/><rect x="1497.6" y="386.0" width="3.8" height="1.5"/><rect x="1514.3" y="490.0" width="3.8" height="4.0"/><rect x="1522.6" y="459.0" width="3.8" height="52.0"/><rect x="1526.8" y="454.0" width="3.8" height="5.0"/><rect x="1530.9" y="406.0" width="3.8" height="48.0"/><rect x="1535.1" y="406.0" width="3.8" height="1.5"/><rect x="1539.3" y="403.6" width="3.8" height="2.4"/><rect x="1543.4" y="390.0" width="3.8" height="13.6"/><rect x="1547.6" y="377.6" width="3.8" height="12.4"/><rect x="1551.8" y="371.5" width="3.8" height="6.1"/><rect x="1564.3" y="393.7" width="3.8" height="29.3"/><rect x="1568.4" y="359.0" width="3.8" height="34.7"/><rect x="1572.6" y="358.0" width="3.8" height="1.5"/><rect x="1576.8" y="356.7" width="3.8" height="1.5"/><rect x="1580.9" y="332.0" width="3.8" height="24.7"/><rect x="1585.1" y="312.0" width="3.8" height="20.0"/><rect x="1589.2" y="259.0" width="3.8" height="53.0"/><rect x="1597.6" y="295.0" width="3.8" height="43.0"/><rect x="1605.9" y="277.7" width="3.8" height="19.3"/><rect x="1610.1" y="275.0" width="3.8" height="2.7"/><rect x="1618.4" y="272.7" width="3.8" height="8.3"/><rect x="1622.6" y="237.0" width="3.8" height="35.7"/><rect x="1626.7" y="222.0" width="3.8" height="15.0"/><rect x="1651.7" y="428.0" width="3.8" height="2.5"/><rect x="1655.9" y="415.0" width="3.8" height="13.0"/><rect x="1664.2" y="436.0" width="3.8" height="25.0"/><rect x="1676.7" y="468.7" width="3.8" height="43.3"/><rect x="1685.0" y="398.3" width="3.8" height="94.7"/><rect x="1689.2" y="392.0" width="3.8" height="6.3"/><rect x="1693.3" y="387.0" width="3.8" height="5.0"/><rect x="1697.5" y="346.4" width="3.8" height="40.6"/><rect x="1701.7" y="337.8" width="3.8" height="8.6"/><rect x="1710.0" y="315.8" width="3.8" height="25.7"/><rect x="1714.2" y="311.0" width="3.8" height="4.8"/><rect x="1722.5" y="378.8" width="3.8" height="6.2"/><rect x="1726.7" y="326.7" width="3.8" height="52.1"/><rect x="1730.8" y="286.7" width="3.8" height="40.0"/><rect x="1735.0" y="267.0" width="3.8" height="19.7"/><rect x="1743.3" y="267.0" width="3.8" height="6.0"/><rect x="1764.1" y="346.0" width="3.8" height="12.0"/><rect x="1772.5" y="370.0" width="3.8" height="19.7"/><rect x="1780.8" y="399.0" width="3.8" height="10.0"/><rect x="1785.0" y="388.5" width="3.8" height="10.5"/><rect x="1789.1" y="382.0" width="3.8" height="6.5"/><rect x="1805.8" y="469.7" width="3.8" height="24.3"/><rect x="1809.9" y="454.0" width="3.8" height="15.7"/><rect x="1814.1" y="446.7" width="3.8" height="7.3"/></g>
<line x1="1744" y1="236" x2="1818" y2="433" stroke="#cdeff2" stroke-width="2.2"/>
<line x1="1744" y1="333.5" x2="1818" y2="536" stroke="#e0648a" stroke-width="2.2"/>
<line x1="1799" y1="520.6" x2="1820.6" y2="429.7" stroke="#db4f59" stroke-width="1.6"/>
<polygon points="1796,451 1811,451 1803.6,464" fill="#d8454f"/>
<text x="640" y="738" font-size="21.5" fill="#c9eef4" textLength="464" lengthAdjust="spacingAndGlyphs">Joeli's supply and demand strategy, May 9 2025</text>
<polygon points="1823,102 1815,110 1823,118" fill="#4a9aac"/>
<polygon points="1823,221.5 1815,230 1823,238.5" fill="#4661f6"/>
<polygon points="1823,342 1815,350 1823,358" fill="#4a9aac"/>
<polygon points="1823,461.5 1815,470 1823,478.5" fill="#4661f6"/>
<polygon points="1823,582 1815,590 1823,598" fill="#4a9aac"/>
<polygon points="1823,701.5 1815,710 1823,718.5" fill="#4661f6"/>
<polygon points="1823,822 1815,830 1823,838" fill="#4a9aac"/>
<polygon points="1823,941.5 1815,950 1823,958.5" fill="#4661f6"/>
<polygon points="1823,1062 1815,1070 1823,1078" fill="#4a9aac"/>
<polygon points="1823,143 1810.5,156 1823,169" fill="#4a9aac"/>
<polygon points="1823,267.5 1815,276 1823,284.5" fill="#4661f6"/>
<polygon points="1823,383 1810.5,396 1823,409" fill="#4a9aac"/>
<polygon points="1823,507.5 1815,516 1823,524.5" fill="#4661f6"/>
<polygon points="1823,623 1810.5,636 1823,649" fill="#4a9aac"/>
<polygon points="1823,747.5 1815,756 1823,764.5" fill="#4661f6"/>
<polygon points="1823,863 1810.5,876 1823,889" fill="#4a9aac"/>
<polygon points="1823,987.5 1815,996 1823,1004.5" fill="#4661f6"/>
<polygon points="1823,1103 1810.5,1116 1823,1129" fill="#4a9aac"/>
</g>
<rect x="1823" y="78" width="2" height="1240" fill="#8c8c8c"/>
<rect x="0" y="1262" width="1945" height="2" fill="#8c8c8c"/>
<text x="1841" y="1259.7" font-size="23" fill="#d4d4d4" textLength="71" lengthAdjust="spacingAndGlyphs" stroke="#d4d4d4" stroke-width="0.45">90.000</text>
<text x="1841" y="1187.0" font-size="23" fill="#d4d4d4" textLength="71" lengthAdjust="spacingAndGlyphs" stroke="#d4d4d4" stroke-width="0.45">95.000</text>
<text x="1842" y="1114.3" font-size="23" fill="#d4d4d4" textLength="84" lengthAdjust="spacingAndGlyphs" stroke="#d4d4d4" stroke-width="0.45">100.000</text>
<text x="1842" y="1041.7" font-size="23" fill="#d4d4d4" textLength="84" lengthAdjust="spacingAndGlyphs" stroke="#d4d4d4" stroke-width="0.45">105.000</text>
<text x="1842" y="969.0" font-size="23" fill="#d4d4d4" textLength="84" lengthAdjust="spacingAndGlyphs" stroke="#d4d4d4" stroke-width="0.45">110.000</text>
<text x="1842" y="896.4" font-size="23" fill="#d4d4d4" textLength="84" lengthAdjust="spacingAndGlyphs" stroke="#d4d4d4" stroke-width="0.45">115.000</text>
<text x="1842" y="823.7" font-size="23" fill="#d4d4d4" textLength="84" lengthAdjust="spacingAndGlyphs" stroke="#d4d4d4" stroke-width="0.45">120.000</text>
<text x="1842" y="751.0" font-size="23" fill="#d4d4d4" textLength="84" lengthAdjust="spacingAndGlyphs" stroke="#d4d4d4" stroke-width="0.45">125.000</text>
<text x="1842" y="678.4" font-size="23" fill="#d4d4d4" textLength="84" lengthAdjust="spacingAndGlyphs" stroke="#d4d4d4" stroke-width="0.45">130.000</text>
<text x="1842" y="605.7" font-size="23" fill="#d4d4d4" textLength="84" lengthAdjust="spacingAndGlyphs" stroke="#d4d4d4" stroke-width="0.45">135.000</text>
<text x="1842" y="533.0" font-size="23" fill="#d4d4d4" textLength="84" lengthAdjust="spacingAndGlyphs" stroke="#d4d4d4" stroke-width="0.45">140.000</text>
<text x="1842" y="460.4" font-size="23" fill="#d4d4d4" textLength="84" lengthAdjust="spacingAndGlyphs" stroke="#d4d4d4" stroke-width="0.45">145.000</text>
<text x="1842" y="387.7" font-size="23" fill="#d4d4d4" textLength="84" lengthAdjust="spacingAndGlyphs" stroke="#d4d4d4" stroke-width="0.45">150.000</text>
<text x="1842" y="315.0" font-size="23" fill="#d4d4d4" textLength="84" lengthAdjust="spacingAndGlyphs" stroke="#d4d4d4" stroke-width="0.45">155.000</text>
<text x="1842" y="242.4" font-size="23" fill="#d4d4d4" textLength="84" lengthAdjust="spacingAndGlyphs" stroke="#d4d4d4" stroke-width="0.45">160.000</text>
<text x="1842" y="169.7" font-size="23" fill="#d4d4d4" textLength="84" lengthAdjust="spacingAndGlyphs" stroke="#d4d4d4" stroke-width="0.45">165.000</text>
<g clip-path="url(#cp)">
<circle cx="1817" cy="1186.5" r="22.3" fill="#a04cc0"/><circle cx="1820" cy="1186.2" r="23.4" fill="#0f0f0f" fill-opacity="0"/><circle cx="1820" cy="1186.2" r="22" fill="#e0525a"/><circle cx="1820" cy="1186.2" r="18.6" fill="#0f0f0f"/><circle cx="1820" cy="1186.2" r="16.1" fill="#f2f1f8"/><circle cx="1819.8" cy="1186" r="6.9" fill="#e0606a"/>
<circle cx="1816.3" cy="1236" r="22" fill="#e0525a"/><circle cx="1816.3" cy="1236" r="18.6" fill="#0f0f0f"/>
<clipPath id="us"><circle cx="1816.3" cy="1236" r="16.2"/></clipPath><g clip-path="url(#us)"><rect x="1798" y="1218" width="40" height="40" fill="#f4f3f9"/><rect x="1819.5" y="1219" width="20" height="7.6" fill="#de6660"/><rect x="1819.5" y="1232.6" width="20" height="6.9" fill="#de6660"/><rect x="1798" y="1218" width="21.5" height="21.5" fill="#4a86e2"/><rect x="1798" y="1245" width="40" height="9" fill="#d8625a"/>
<circle cx="1804.5" cy="1224.5" r="1.45" fill="#fff"/>
<circle cx="1809.85" cy="1224.5" r="1.45" fill="#fff"/>
<circle cx="1815.2" cy="1224.5" r="1.45" fill="#fff"/>
<circle cx="1804.5" cy="1229.75" r="1.45" fill="#fff"/>
<circle cx="1809.85" cy="1229.75" r="1.45" fill="#fff"/>
<circle cx="1815.2" cy="1229.75" r="1.45" fill="#fff"/>
<circle cx="1804.5" cy="1235.0" r="1.45" fill="#fff"/>
<circle cx="1809.85" cy="1235.0" r="1.45" fill="#fff"/>
<circle cx="1815.2" cy="1235.0" r="1.45" fill="#fff"/>
</g></g>
<path d="M1762 189 H1934 Q1937 189 1937 192 V219.5 Q1937 222.5 1934 222.5 H1762 Q1759 222.5 1759 219.5 V192 Q1759 189 1762 189Z" fill="#212a5c"/>

<text x="1767.5" y="213.5" font-size="24" fill="#fff" textLength="47" lengthAdjust="spacingAndGlyphs" stroke="#fff" stroke-width="0.45">High</text>
<text x="1842" y="214.5" font-size="23" fill="#fff" textLength="82" lengthAdjust="spacingAndGlyphs" stroke="#fff" stroke-width="0.45">161.951</text>
<path d="M1766 1071.5 H1934 Q1937 1071.5 1937 1074.5 V1102 Q1937 1105 1934 1105 H1766 Q1763 1105 1763 1102 V1074.5 Q1763 1071.5 1766 1071.5Z" fill="#212a5c"/>

<text x="1772" y="1096.5" font-size="24" fill="#fff" textLength="42" lengthAdjust="spacingAndGlyphs" stroke="#fff" stroke-width="0.45">Low</text>
<text x="1842" y="1097" font-size="23" fill="#fff" textLength="83" lengthAdjust="spacingAndGlyphs" stroke="#fff" stroke-width="0.45">101.183</text>
<path d="M1825 430.5 H1934 Q1937 430.5 1937 433.5 V460.5 Q1937 463.5 1934 463.5 H1825Z" fill="#5ea351"/>
<text x="1842" y="455.5" font-size="23" fill="#fff" textLength="83" lengthAdjust="spacingAndGlyphs" stroke="#fff" stroke-width="0.45">145.368</text>
<rect x="1831.5" y="87" width="106" height="50" rx="7" fill="none" stroke="#4d4d4d" stroke-width="1.3"/>
<text x="1839.5" y="120.5" font-size="23" fill="#dcdcdc" textLength="38" lengthAdjust="spacingAndGlyphs" stroke="#dcdcdc" stroke-width="0.45">JPY</text>
<path d="M1918.5 109.5 L1923.5 114.5 L1928.5 109.5" fill="none" stroke="#dcdcdc" stroke-width="2.2"/>
<text x="-20.0" y="1299" font-size="23" font-weight="bold" fill="#dadada" textLength="56" lengthAdjust="spacingAndGlyphs">2017</text>
<text x="100.0" y="1299" font-size="23" font-weight="normal" fill="#dadada" textLength="32" lengthAdjust="spacingAndGlyphs" stroke="#dadada" stroke-width="0.45">Jul</text>
<text x="196.0" y="1299" font-size="23" font-weight="bold" fill="#dadada" textLength="56" lengthAdjust="spacingAndGlyphs">2018</text>
<text x="316.0" y="1299" font-size="23" font-weight="normal" fill="#dadada" textLength="32" lengthAdjust="spacingAndGlyphs" stroke="#dadada" stroke-width="0.45">Jul</text>
<text x="416.0" y="1299" font-size="23" font-weight="bold" fill="#dadada" textLength="56" lengthAdjust="spacingAndGlyphs">2019</text>
<text x="532.0" y="1299" font-size="23" font-weight="normal" fill="#dadada" textLength="32" lengthAdjust="spacingAndGlyphs" stroke="#dadada" stroke-width="0.45">Jul</text>
<text x="633.0" y="1299" font-size="23" font-weight="bold" fill="#dadada" textLength="56" lengthAdjust="spacingAndGlyphs">2020</text>
<text x="752.0" y="1299" font-size="23" font-weight="normal" fill="#dadada" textLength="32" lengthAdjust="spacingAndGlyphs" stroke="#dadada" stroke-width="0.45">Jul</text>
<text x="848.0" y="1299" font-size="23" font-weight="bold" fill="#dadada" textLength="56" lengthAdjust="spacingAndGlyphs">2021</text>
<text x="968.0" y="1299" font-size="23" font-weight="normal" fill="#dadada" textLength="32" lengthAdjust="spacingAndGlyphs" stroke="#dadada" stroke-width="0.45">Jul</text>
<text x="1065.0" y="1299" font-size="23" font-weight="bold" fill="#dadada" textLength="56" lengthAdjust="spacingAndGlyphs">2022</text>
<text x="1185.0" y="1299" font-size="23" font-weight="normal" fill="#dadada" textLength="32" lengthAdjust="spacingAndGlyphs" stroke="#dadada" stroke-width="0.45">Jul</text>
<text x="1281.0" y="1299" font-size="23" font-weight="bold" fill="#dadada" textLength="56" lengthAdjust="spacingAndGlyphs">2023</text>
<text x="1400.0" y="1299" font-size="23" font-weight="normal" fill="#dadada" textLength="32" lengthAdjust="spacingAndGlyphs" stroke="#dadada" stroke-width="0.45">Jul</text>
<text x="1497.0" y="1299" font-size="23" font-weight="bold" fill="#dadada" textLength="56" lengthAdjust="spacingAndGlyphs">2024</text>
<text x="1617.0" y="1299" font-size="23" font-weight="normal" fill="#dadada" textLength="32" lengthAdjust="spacingAndGlyphs" stroke="#dadada" stroke-width="0.45">Jul</text>
<text x="1717.0" y="1299" font-size="23" font-weight="bold" fill="#dadada" textLength="56" lengthAdjust="spacingAndGlyphs">2025</text>
<path d="M1879.5 1279.5 H1892.5 L1899 1291 L1892.5 1302.5 H1879.5 L1873 1291 Z" fill="none" stroke="#dcdcdc" stroke-width="1.8" stroke-linejoin="round"/><circle cx="1886" cy="1291" r="3.6" fill="none" stroke="#dcdcdc" stroke-width="1.8"/>
<g stroke="#0f0f0f" stroke-width="3" stroke-linejoin="round" paint-order="stroke" fill="#dedede"><path d="M23 1204 H47 V1235 H36 V1215 H23 Z"/><circle cx="56" cy="1210" r="6"/><path d="M64 1204 H83 L70 1235 H52 Z"/></g>
<rect x="7" y="90" width="430" height="40" fill="#0f0f0f" fill-opacity="0.5"/><rect x="0" y="136" width="352" height="80" fill="#0f0f0f" fill-opacity="0.55"/><circle cx="46.9" cy="110.1" r="18" fill="#ffffff" fill-opacity="0.088"/><rect x="36.9" y="106" width="20.2" height="8.2" rx="4.1" fill="#a2a2a2"/>
<text x="97" y="118.600" font-size="24" fill="#86d565" textLength="184" lengthAdjust="spacingAndGlyphs" stroke="#86d565" stroke-width="0.45">+0.460 (+0.32%)</text>
<text x="294" y="118.600" font-size="24" fill="#dcdcdc" textLength="34" lengthAdjust="spacingAndGlyphs" stroke="#dcdcdc" stroke-width="0.45">Vol</text>
<text x="330" y="118.600" font-size="24" fill="#86d565" textLength="98" lengthAdjust="spacingAndGlyphs" stroke="#86d565" stroke-width="0.45">799.32 K</text>
<rect x="15.5" y="143.5" width="133.5" height="65.5" rx="8" fill="#0f0f0f" stroke="#e0525a" stroke-width="2"/>
<text x="39.3" y="172.6" font-size="21.5" font-weight="bold" fill="#e0525a" textLength="77.6" lengthAdjust="spacingAndGlyphs">145.36</text><text x="117.8" y="169" font-size="17.5" font-weight="bold" fill="#e0525a">8</text>
<text x="58.5" y="199.5" font-size="20" fill="#e0525a" textLength="47" lengthAdjust="spacingAndGlyphs" stroke="#e0525a" stroke-width="0.45">SELL</text>
<text x="166" y="183" font-size="19" fill="#dcdcdc" textLength="28" lengthAdjust="spacingAndGlyphs" stroke="#dcdcdc" stroke-width="0.45">0.7</text>
<rect x="211" y="143.5" width="133.5" height="65.5" rx="8" fill="#0f0f0f" stroke="#4a66f5" stroke-width="2"/>
<text x="234.6" y="172.6" font-size="21.5" font-weight="bold" fill="#4a66f5" textLength="77.6" lengthAdjust="spacingAndGlyphs">145.37</text><text x="313" y="169" font-size="17.5" font-weight="bold" fill="#4a66f5">5</text>
<text x="257" y="199.5" font-size="20" fill="#4a66f5" textLength="40" lengthAdjust="spacingAndGlyphs" stroke="#4a66f5" stroke-width="0.45">BUY</text>
<circle cx="27.4" cy="30.4" r="10.9" fill="none" stroke="#111111" stroke-width="3"/><line x1="35.2" y1="38.2" x2="42.6" y2="45.6" stroke="#111111" stroke-width="3"/>
<text x="56.3" y="41.7" font-size="27" font-weight="bold" fill="#111111" textLength="98" lengthAdjust="spacingAndGlyphs">USDJPY</text>
<circle cx="228" cy="33" r="17.8" fill="none" stroke="#111111" stroke-width="2.1"/><path d="M219 33 H237 M228 24 V42" stroke="#111111" stroke-width="2.1"/>
<rect x="275.4" y="10.3" width="1.6" height="43.4" fill="#e3e3e3"/>
<rect x="367.2" y="10.3" width="1.6" height="43.4" fill="#e3e3e3"/>
<rect x="461.3" y="10.3" width="1.6" height="43.4" fill="#e3e3e3"/>
<rect x="821.1" y="10.3" width="1.6" height="43.4" fill="#e3e3e3"/>
<rect x="1171.4" y="10.3" width="1.6" height="43.4" fill="#e3e3e3"/>
<text x="310" y="41.4" font-size="27" fill="#111111" textLength="24" lengthAdjust="spacingAndGlyphs" stroke="#111111" stroke-width="0.45">W</text>
<g fill="none" stroke="#111111" stroke-width="2"><rect x="404.1" y="19.2" width="8" height="25.8"/><path d="M408.1 12 V19.2 M408.1 45 V51.7"/><rect x="420.3" y="24.9" width="7.6" height="13.9"/><path d="M424.1 18.2 V24.9 M424.1 38.8 V46"/></g>
<g fill="none" stroke="#111111" stroke-width="2" stroke-linejoin="miter"><path d="M493.6 27.9 L504.2 17.7 L512.2 24.4 L526.7 14.4"/><path d="M494.4 48.4 V41.4 H503.4 M503.4 48.4 V37.6 Q503.4 35.7 505.3 35.7 H511.4 V48.4 M518.6 48.4 V29.1 H525.9 V48.4 M493.4 48.4 H526.9"/></g>
<text x="546.2" y="41.4" font-size="27" fill="#111111" textLength="122" lengthAdjust="spacingAndGlyphs" stroke="#111111" stroke-width="0.45">Indicators</text>
<path d="M705.6 28.6 L713 35.4 L720.7 28.6" fill="none" stroke="#111111" stroke-width="2"/>
<g fill="none" stroke="#111111" stroke-width="2"><rect x="760" y="17.7" width="10.8" height="10.3" rx="2.6"/><rect x="778.5" y="17.7" width="11.6" height="10.3" rx="2.6"/><rect x="760" y="36.2" width="10.8" height="9.9" rx="2.6"/><rect x="778.5" y="36.2" width="11.6" height="9.9" rx="2.6"/></g>
<g fill="none" stroke="#111111" stroke-width="2"><path d="M869 49 A16.3 16.3 0 1 1 884.5 33.4"/><path d="M868.2 22.4 V32.7 H861.3"/><path d="M849.3 22.2 L856.9 14.2 M879.3 14.2 L887.3 22.2"/><path d="M880.1 36.3 V54 M871.3 45.1 H889.1"/></g>
<text x="905.3" y="41.4" font-size="27" fill="#111111" textLength="61" lengthAdjust="spacingAndGlyphs" stroke="#111111" stroke-width="0.45">Alert</text>
<g fill="none" stroke="#111111" stroke-width="2" stroke-linejoin="miter"><path d="M1024 22.6 V44 L1012.6 33.2 Z"/><path d="M1040.2 22.6 V44 L1028.8 33.2 Z"/></g>
<text x="1062" y="41.5" font-size="27" fill="#111111" textLength="81.5" lengthAdjust="spacingAndGlyphs" stroke="#111111" stroke-width="0.45">Replay</text>
<path d="M1213 21.8 L1205.6 29.2 L1213 36.6 M1205.8 29.2 H1220.5 A9.8 9.8 0 0 1 1230.3 39 V41.8" fill="none" stroke="#111111" stroke-width="2"/>
<path d="M1299.2 21.8 L1306.6 29.2 L1299.2 36.600 M1306.4 29.2 H1291.600 A9.8 9.8 0 0 0 1281.8 39 V41.8" fill="none" stroke="#8e8e8e" stroke-width="2"/>
<text x="28" y="1367.6" font-size="26.5" fill="#111111" textLength="32" lengthAdjust="spacingAndGlyphs" stroke="#111111" stroke-width="0.45">1D</text>
<text x="83" y="1367.6" font-size="26.5" fill="#111111" textLength="32" lengthAdjust="spacingAndGlyphs" stroke="#111111" stroke-width="0.45">5D</text>
<text x="139" y="1367.6" font-size="26.5" fill="#111111" textLength="35" lengthAdjust="spacingAndGlyphs" stroke="#111111" stroke-width="0.45">1M</text>
<text x="198" y="1367.6" font-size="26.5" fill="#111111" textLength="34" lengthAdjust="spacingAndGlyphs" stroke="#111111" stroke-width="0.45">3M</text>
<text x="256" y="1367.6" font-size="26.5" fill="#111111" textLength="35" lengthAdjust="spacingAndGlyphs" stroke="#111111" stroke-width="0.45">6M</text>
<text x="315" y="1367.6" font-size="26.5" fill="#111111" textLength="49" lengthAdjust="spacingAndGlyphs" stroke="#111111" stroke-width="0.45">YTD</text>
<text x="388" y="1367.6" font-size="26.5" fill="#111111" textLength="30" lengthAdjust="spacingAndGlyphs" stroke="#111111" stroke-width="0.45">1Y</text>
<text x="443" y="1367.6" font-size="26.5" fill="#111111" textLength="30" lengthAdjust="spacingAndGlyphs" stroke="#111111" stroke-width="0.45">5Y</text>
<text x="497" y="1367.6" font-size="26.5" fill="#111111" textLength="33" lengthAdjust="spacingAndGlyphs" stroke="#111111" stroke-width="0.45">All</text>
<rect x="550.3" y="1336" width="1.6" height="43" fill="#e3e3e3"/>
<g fill="none" stroke="#111111" stroke-width="2"><path d="M581.6 1359 V1347.5 Q581.6 1343.7 585.4 1343.7 H610.300 Q614.1 1343.7 614.1 1347.5 V1368.500 Q614.1 1372.3 610.300 1372.3 H598"/><path d="M581.6 1350 H614.1 M590.5 1338.4 V1349 M604.6 1338.4 V1349"/><path d="M578.3 1368 H592 M586.5 1362.300 L592.2 1368 L586.5 1373.700"/></g>
<text x="1715.5" y="1368.2" font-size="27.5" fill="#111111" textLength="211.500" lengthAdjust="spacingAndGlyphs" stroke="#111111" stroke-width="0.45">14:50:04 UTC+10</text>
</svg>
</body></html>
